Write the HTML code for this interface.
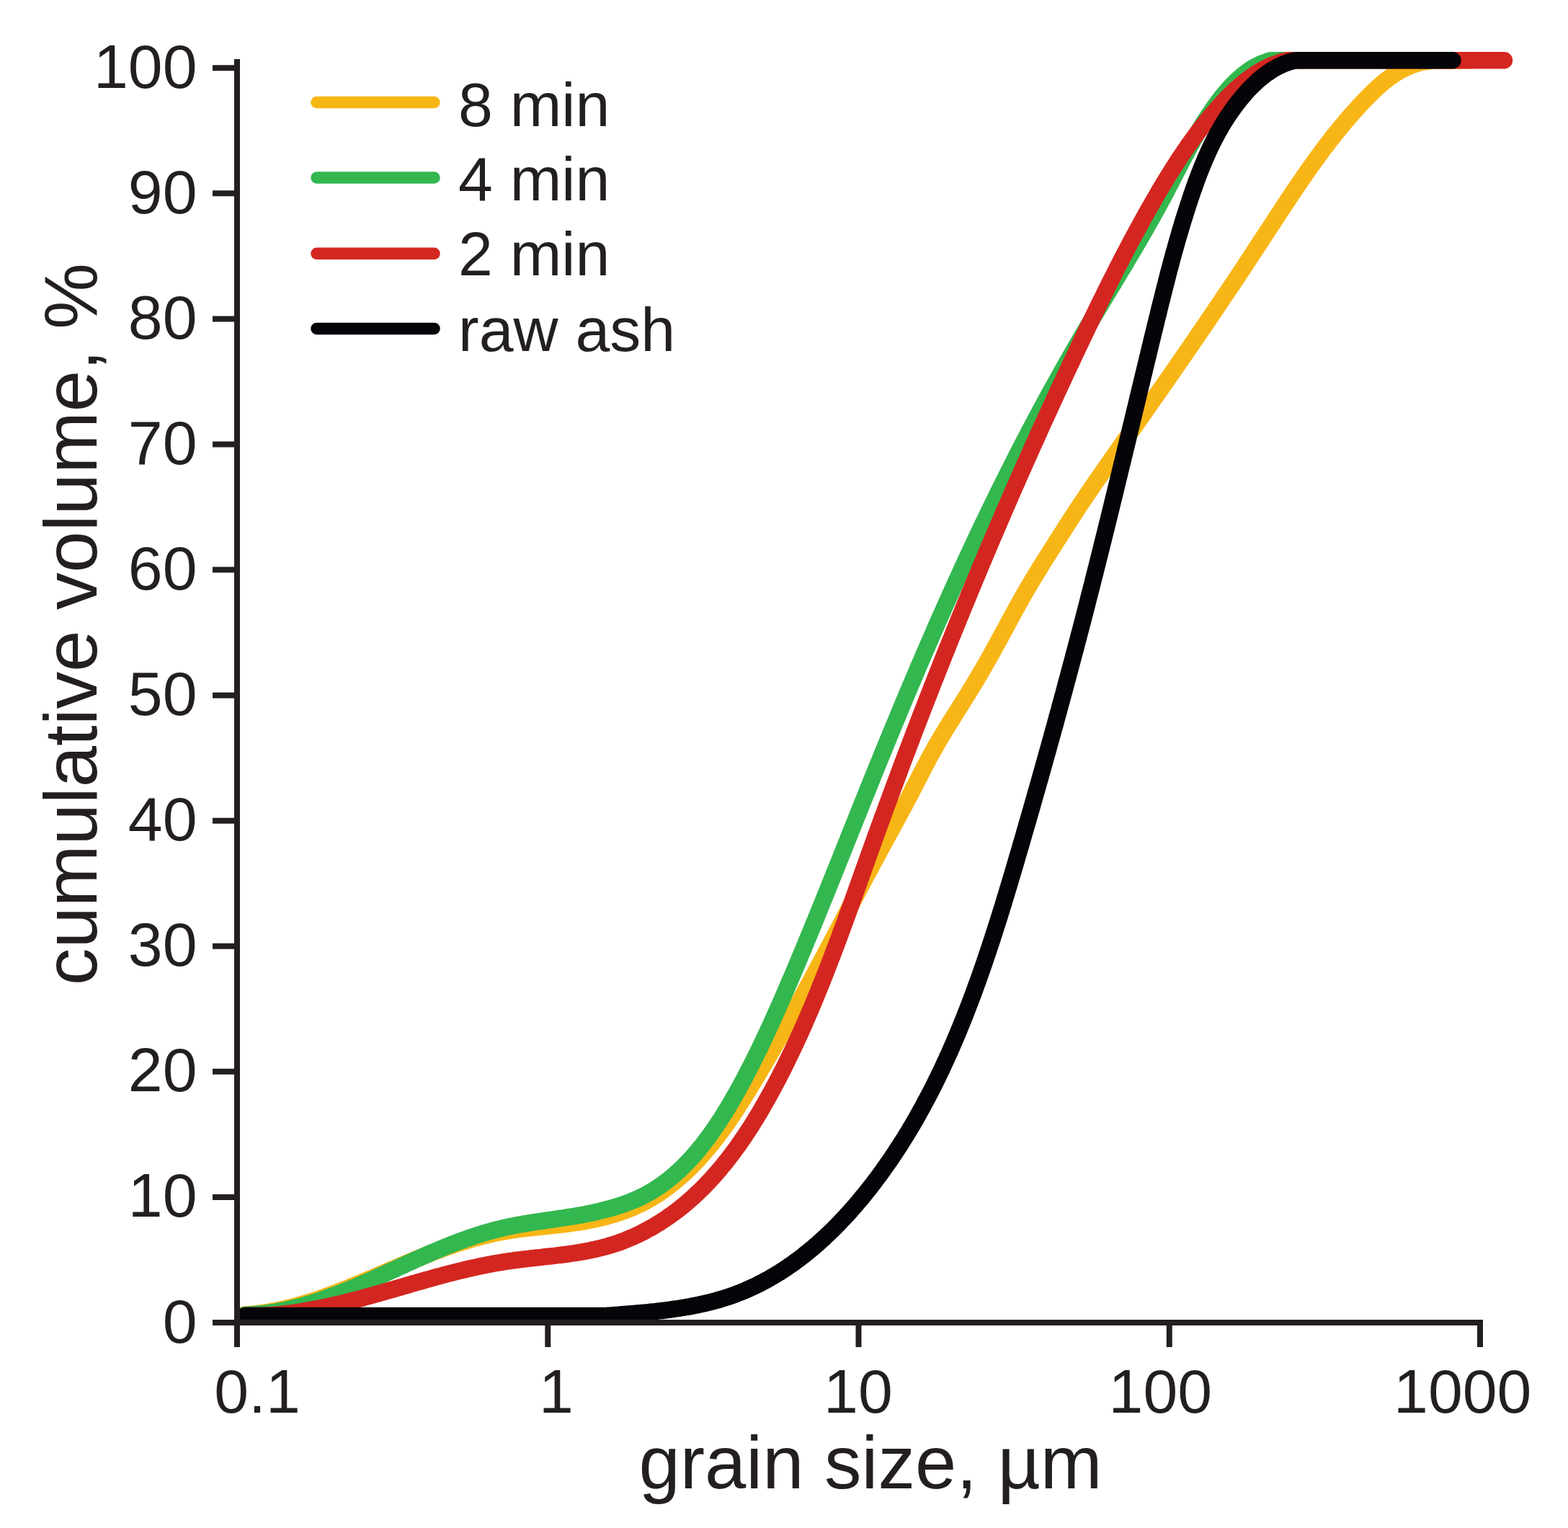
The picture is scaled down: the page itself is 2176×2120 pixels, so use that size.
<!DOCTYPE html>
<html><head><meta charset="utf-8"><title>Cumulative grain size distribution</title>
<style>html,body{margin:0;padding:0;background:#fff;}body{width:2176px;height:2120px;overflow:hidden;}svg{display:block;}</style>
</head><body>
<svg xmlns="http://www.w3.org/2000/svg" width="2176" height="2120" viewBox="0 0 2176 2120">
<rect width="2176" height="2120" fill="#fff"/>
<g fill="none" stroke-width="23.5" stroke-linecap="round" stroke-linejoin="round">
<path stroke="#f8b616" d="M340.0,1824.0C342.0,1823.9 344.0,1823.7 346.0,1823.6C348.1,1823.4 350.1,1823.2 352.1,1823.0C354.1,1822.8 356.1,1822.6 358.1,1822.3C360.1,1822.1 362.0,1821.8 364.0,1821.6C366.0,1821.3 368.0,1821.0 370.0,1820.7C372.0,1820.4 373.9,1820.0 375.9,1819.7C377.9,1819.3 379.8,1819.0 381.8,1818.6C383.8,1818.2 385.7,1817.8 387.7,1817.4C389.6,1817.0 391.6,1816.6 393.5,1816.1C395.5,1815.7 397.4,1815.2 399.4,1814.8C401.3,1814.3 403.3,1813.8 405.2,1813.3C407.1,1812.8 409.1,1812.3 411.0,1811.8C412.9,1811.3 414.8,1810.7 416.8,1810.2C418.7,1809.6 420.6,1809.1 422.5,1808.5C424.4,1807.9 426.4,1807.3 428.3,1806.7C430.2,1806.1 432.1,1805.5 434.0,1804.9C435.9,1804.3 437.8,1803.7 439.7,1803.0C441.6,1802.4 443.5,1801.7 445.4,1801.1C447.3,1800.4 449.2,1799.8 451.1,1799.1C453.0,1798.4 454.9,1797.7 456.8,1797.0C458.6,1796.4 460.5,1795.7 462.4,1794.9C464.3,1794.2 466.2,1793.5 468.1,1792.8C469.9,1792.1 471.8,1791.4 473.7,1790.6C475.6,1789.9 477.4,1789.2 479.3,1788.4C481.2,1787.7 483.0,1786.9 484.9,1786.2C486.8,1785.4 488.6,1784.6 490.5,1783.9C492.4,1783.1 494.2,1782.3 496.1,1781.6C498.0,1780.8 499.8,1780.0 501.7,1779.2C503.5,1778.5 505.4,1777.7 507.2,1776.9C509.1,1776.1 511.0,1775.3 512.8,1774.5C514.7,1773.7 516.5,1772.9 518.4,1772.2C520.2,1771.4 522.1,1770.6 523.9,1769.8C525.8,1769.0 527.6,1768.2 529.5,1767.4C531.3,1766.6 533.2,1765.8 535.0,1765.0C536.8,1764.2 538.7,1763.4 540.5,1762.6C542.4,1761.8 544.2,1761.0 546.1,1760.2C547.9,1759.4 549.8,1758.7 551.6,1757.9C553.5,1757.1 555.3,1756.3 557.1,1755.5C559.0,1754.7 560.8,1753.9 562.7,1753.2C564.5,1752.4 566.4,1751.6 568.2,1750.8C570.1,1750.1 571.9,1749.3 573.8,1748.5C575.6,1747.8 577.4,1747.0 579.3,1746.2C581.1,1745.5 583.0,1744.7 584.8,1744.0C586.7,1743.2 588.5,1742.5 590.4,1741.7C592.3,1741.0 594.1,1740.3 596.0,1739.6C597.8,1738.8 599.7,1738.1 601.5,1737.4C603.4,1736.7 605.3,1736.0 607.1,1735.3C609.0,1734.6 610.9,1733.9 612.7,1733.2C614.6,1732.5 616.5,1731.8 618.3,1731.1C620.2,1730.5 622.1,1729.8 624.0,1729.2C625.8,1728.5 627.7,1727.8 629.6,1727.2C631.5,1726.6 633.4,1725.9 635.3,1725.3C637.1,1724.7 639.0,1724.1 640.9,1723.5C642.8,1722.9 644.7,1722.3 646.6,1721.7C648.5,1721.1 650.4,1720.6 652.3,1720.0C654.2,1719.4 656.1,1718.9 658.1,1718.4C660.0,1717.8 661.9,1717.3 663.8,1716.8C665.7,1716.3 667.7,1715.8 669.6,1715.3C671.5,1714.8 673.4,1714.3 675.4,1713.8C677.3,1713.4 679.3,1712.9 681.2,1712.5C683.2,1712.0 685.1,1711.6 687.1,1711.2C689.0,1710.8 691.0,1710.4 692.9,1710.0C694.9,1709.6 696.9,1709.3 698.9,1708.9C700.8,1708.6 702.8,1708.2 704.8,1707.9C706.8,1707.6 708.8,1707.3 710.8,1707.0C712.7,1706.7 714.7,1706.4 716.7,1706.1C718.7,1705.8 720.8,1705.6 722.8,1705.3C724.8,1705.0 726.8,1704.8 728.8,1704.5C730.8,1704.3 732.8,1704.1 734.8,1703.8C736.8,1703.6 738.9,1703.4 740.9,1703.2C742.9,1703.0 744.9,1702.7 746.9,1702.5C749.0,1702.3 751.0,1702.1 753.0,1701.9C755.0,1701.7 757.0,1701.5 759.1,1701.3C761.1,1701.1 763.1,1700.8 765.1,1700.6C767.1,1700.4 769.1,1700.2 771.2,1700.0C773.2,1699.8 775.2,1699.5 777.2,1699.3C779.2,1699.1 781.2,1698.8 783.2,1698.6C785.2,1698.4 787.2,1698.1 789.2,1697.9C791.2,1697.6 793.2,1697.3 795.2,1697.0C797.2,1696.8 799.2,1696.5 801.2,1696.2C803.1,1695.9 805.1,1695.6 807.1,1695.2C809.1,1694.9 811.0,1694.6 813.0,1694.2C815.0,1693.9 816.9,1693.5 818.9,1693.1C820.8,1692.7 822.8,1692.3 824.7,1691.9C826.6,1691.5 828.6,1691.1 830.5,1690.6C832.4,1690.2 834.3,1689.7 836.3,1689.3C838.2,1688.8 840.1,1688.3 842.0,1687.8C843.9,1687.3 845.8,1686.8 847.6,1686.2C849.5,1685.7 851.4,1685.1 853.3,1684.5C855.2,1683.9 857.0,1683.3 858.9,1682.7C860.7,1682.1 862.6,1681.5 864.4,1680.8C866.3,1680.1 868.1,1679.5 869.9,1678.8C871.7,1678.1 873.5,1677.3 875.4,1676.6C877.2,1675.8 879.0,1675.1 880.7,1674.3C882.5,1673.5 884.3,1672.7 886.1,1671.8C887.9,1671.0 889.6,1670.1 891.4,1669.3C893.1,1668.4 894.9,1667.5 896.6,1666.5C898.3,1665.6 900.0,1664.6 901.7,1663.7C903.5,1662.7 905.2,1661.7 906.8,1660.6C908.5,1659.6 910.2,1658.5 911.9,1657.5C913.6,1656.4 915.2,1655.3 916.9,1654.2C918.5,1653.0 920.1,1651.9 921.8,1650.7C923.4,1649.6 925.0,1648.4 926.6,1647.2C928.2,1646.0 929.8,1644.8 931.4,1643.5C932.9,1642.3 934.5,1641.1 936.1,1639.8C937.6,1638.5 939.2,1637.2 940.7,1635.9C942.2,1634.6 943.7,1633.3 945.2,1632.0C946.7,1630.6 948.2,1629.3 949.7,1627.9C951.2,1626.6 952.6,1625.2 954.1,1623.8C955.5,1622.4 957.0,1621.0 958.4,1619.6C959.8,1618.2 961.2,1616.8 962.6,1615.3C964.0,1613.9 965.4,1612.5 966.8,1611.0C968.1,1609.5 969.5,1608.1 970.9,1606.6C972.2,1605.1 973.5,1603.6 974.9,1602.1C976.2,1600.6 977.5,1599.1 978.8,1597.6C980.1,1596.1 981.4,1594.5 982.7,1593.0C984.0,1591.5 985.3,1589.9 986.5,1588.4C987.8,1586.8 989.0,1585.2 990.3,1583.7C991.5,1582.1 992.8,1580.5 994.0,1578.9C995.2,1577.3 996.4,1575.7 997.6,1574.1C998.8,1572.5 1000.0,1570.9 1001.2,1569.3C1002.4,1567.6 1003.6,1566.0 1004.8,1564.4C1005.9,1562.7 1007.1,1561.1 1008.3,1559.4C1009.4,1557.8 1010.6,1556.1 1011.7,1554.5C1012.9,1552.8 1014.0,1551.2 1015.1,1549.5C1016.3,1547.8 1017.4,1546.1 1018.5,1544.5C1019.6,1542.8 1020.7,1541.1 1021.9,1539.4C1023.0,1537.7 1024.1,1536.0 1025.2,1534.3C1026.3,1532.6 1027.3,1530.9 1028.4,1529.2C1029.5,1527.5 1030.6,1525.8 1031.7,1524.1C1032.7,1522.4 1033.8,1520.6 1034.9,1518.9C1035.9,1517.2 1037.0,1515.5 1038.1,1513.8C1039.1,1512.0 1040.2,1510.3 1041.2,1508.6C1042.3,1506.9 1043.3,1505.1 1044.4,1503.4C1045.4,1501.7 1046.5,1499.9 1047.5,1498.2C1048.6,1496.5 1049.6,1494.7 1050.6,1493.0C1051.7,1491.3 1052.7,1489.5 1053.7,1487.8C1054.8,1486.1 1055.8,1484.3 1056.8,1482.6C1057.8,1480.9 1058.9,1479.1 1059.9,1477.4C1060.9,1475.6 1061.9,1473.9 1062.9,1472.2C1064.0,1470.4 1065.0,1468.7 1066.0,1466.9C1067.0,1465.2 1068.0,1463.4 1069.0,1461.7C1070.0,1460.0 1071.0,1458.2 1072.0,1456.5C1073.0,1454.7 1074.0,1453.0 1075.0,1451.2C1076.0,1449.5 1077.0,1447.7 1078.0,1446.0C1079.0,1444.2 1080.0,1442.5 1081.0,1440.7C1082.0,1439.0 1083.0,1437.2 1084.0,1435.5C1085.0,1433.7 1086.0,1432.0 1086.9,1430.2C1087.9,1428.5 1088.9,1426.7 1089.9,1425.0C1090.9,1423.2 1091.9,1421.5 1092.8,1419.7C1093.8,1418.0 1094.8,1416.2 1095.8,1414.5C1096.7,1412.7 1097.7,1411.0 1098.7,1409.2C1099.7,1407.4 1100.6,1405.7 1101.6,1403.9C1102.6,1402.2 1103.5,1400.4 1104.5,1398.7C1105.5,1396.9 1106.4,1395.1 1107.4,1393.4C1108.4,1391.6 1109.3,1389.9 1110.3,1388.1C1111.2,1386.4 1112.2,1384.6 1113.2,1382.8C1114.1,1381.1 1115.1,1379.3 1116.0,1377.6C1117.0,1375.8 1117.9,1374.0 1118.9,1372.3C1119.8,1370.5 1120.8,1368.8 1121.8,1367.0C1122.7,1365.2 1123.7,1363.5 1124.6,1361.7C1125.6,1359.9 1126.5,1358.2 1127.4,1356.4C1128.4,1354.7 1129.3,1352.9 1130.3,1351.1C1131.2,1349.4 1132.2,1347.6 1133.1,1345.8C1134.1,1344.1 1135.0,1342.3 1135.9,1340.5C1136.9,1338.8 1137.8,1337.0 1138.8,1335.3C1139.7,1333.5 1140.7,1331.7 1141.6,1330.0C1142.5,1328.2 1143.5,1326.4 1144.4,1324.7C1145.3,1322.9 1146.3,1321.1 1147.2,1319.4C1148.2,1317.6 1149.1,1315.8 1150.0,1314.1C1151.0,1312.3 1151.9,1310.6 1152.8,1308.8C1153.8,1307.0 1154.7,1305.3 1155.6,1303.5C1156.6,1301.7 1157.5,1300.0 1158.4,1298.2C1159.4,1296.4 1160.3,1294.7 1161.2,1292.9C1162.2,1291.1 1163.1,1289.4 1164.0,1287.6C1165.0,1285.8 1165.9,1284.1 1166.8,1282.3C1167.8,1280.6 1168.7,1278.8 1169.6,1277.0C1170.6,1275.3 1171.5,1273.5 1172.4,1271.7C1173.4,1270.0 1174.3,1268.2 1175.2,1266.4C1176.2,1264.7 1177.1,1262.9 1178.0,1261.1C1178.9,1259.4 1179.9,1257.6 1180.8,1255.9C1181.7,1254.1 1182.7,1252.3 1183.6,1250.6C1184.5,1248.8 1185.5,1247.0 1186.4,1245.3C1187.3,1243.5 1188.3,1241.8 1189.2,1240.0C1190.1,1238.2 1191.1,1236.5 1192.0,1234.7C1192.9,1232.9 1193.9,1231.2 1194.8,1229.4C1195.7,1227.7 1196.7,1225.9 1197.6,1224.1C1198.6,1222.4 1199.5,1220.6 1200.4,1218.9C1201.4,1217.1 1202.3,1215.4 1203.2,1213.6C1204.2,1211.8 1205.1,1210.1 1206.1,1208.3C1207.0,1206.6 1207.9,1204.8 1208.9,1203.0C1209.8,1201.3 1210.8,1199.5 1211.7,1197.8C1212.7,1196.0 1213.6,1194.3 1214.5,1192.5C1215.5,1190.8 1216.4,1189.0 1217.4,1187.3C1218.3,1185.5 1219.3,1183.7 1220.2,1182.0C1221.2,1180.2 1222.1,1178.5 1223.1,1176.7C1224.0,1175.0 1225.0,1173.2 1225.9,1171.5C1226.9,1169.7 1227.8,1168.0 1228.8,1166.2C1229.7,1164.5 1230.7,1162.7 1231.6,1161.0C1232.6,1159.2 1233.5,1157.5 1234.5,1155.7C1235.5,1154.0 1236.4,1152.3 1237.4,1150.5C1238.3,1148.8 1239.3,1147.0 1240.2,1145.3C1241.2,1143.5 1242.1,1141.8 1243.1,1140.0C1244.0,1138.3 1245.0,1136.5 1245.9,1134.8C1246.8,1133.0 1247.8,1131.3 1248.7,1129.6C1249.7,1127.8 1250.6,1126.1 1251.5,1124.3C1252.5,1122.6 1253.4,1120.8 1254.4,1119.1C1255.3,1117.3 1256.2,1115.6 1257.1,1113.9C1258.1,1112.1 1259.0,1110.4 1259.9,1108.6C1260.8,1106.9 1261.8,1105.1 1262.7,1103.4C1263.6,1101.7 1264.5,1099.9 1265.4,1098.2C1266.3,1096.4 1267.2,1094.7 1268.1,1092.9C1269.0,1091.2 1269.9,1089.4 1270.8,1087.7C1271.7,1086.0 1272.6,1084.2 1273.5,1082.5C1274.4,1080.7 1275.3,1079.0 1276.2,1077.2C1277.1,1075.5 1278.0,1073.7 1278.9,1072.0C1279.8,1070.3 1280.7,1068.5 1281.6,1066.8C1282.5,1065.0 1283.4,1063.3 1284.3,1061.5C1285.3,1059.8 1286.2,1058.0 1287.1,1056.3C1288.0,1054.5 1289.0,1052.8 1289.9,1051.0C1290.8,1049.3 1291.8,1047.5 1292.8,1045.8C1293.7,1044.0 1294.7,1042.3 1295.7,1040.5C1296.6,1038.8 1297.6,1037.0 1298.6,1035.3C1299.6,1033.5 1300.6,1031.8 1301.6,1030.0C1302.7,1028.3 1303.7,1026.5 1304.7,1024.8C1305.8,1023.0 1306.8,1021.3 1307.9,1019.5C1308.9,1017.8 1310.0,1016.0 1311.1,1014.3C1312.1,1012.5 1313.2,1010.7 1314.3,1009.0C1315.4,1007.2 1316.5,1005.5 1317.6,1003.7C1318.6,1002.0 1319.7,1000.2 1320.8,998.5C1321.9,996.7 1323.1,994.9 1324.2,993.2C1325.3,991.4 1326.4,989.7 1327.5,987.9C1328.6,986.2 1329.7,984.4 1330.8,982.7C1331.9,980.9 1333.0,979.1 1334.1,977.4C1335.2,975.6 1336.3,973.9 1337.4,972.1C1338.5,970.4 1339.6,968.6 1340.7,966.9C1341.8,965.1 1342.9,963.4 1344.0,961.6C1345.1,959.8 1346.2,958.1 1347.2,956.3C1348.3,954.6 1349.4,952.8 1350.4,951.1C1351.5,949.3 1352.5,947.6 1353.6,945.8C1354.6,944.1 1355.7,942.3 1356.7,940.6C1357.8,938.8 1358.8,937.1 1359.8,935.3C1360.8,933.6 1361.8,931.8 1362.9,930.1C1363.9,928.3 1364.9,926.6 1365.9,924.8C1366.9,923.1 1367.9,921.4 1368.9,919.6C1369.9,917.9 1370.8,916.1 1371.8,914.4C1372.8,912.7 1373.8,910.9 1374.8,909.2C1375.7,907.4 1376.7,905.7 1377.7,904.0C1378.6,902.2 1379.6,900.5 1380.5,898.8C1381.5,897.0 1382.5,895.3 1383.4,893.6C1384.4,891.8 1385.3,890.1 1386.2,888.4C1387.2,886.6 1388.1,884.9 1389.1,883.2C1390.0,881.5 1390.9,879.7 1391.9,878.0C1392.8,876.3 1393.7,874.6 1394.7,872.8C1395.6,871.1 1396.5,869.4 1397.4,867.7C1398.4,866.0 1399.3,864.2 1400.2,862.5C1401.2,860.8 1402.1,859.1 1403.0,857.4C1404.0,855.7 1404.9,853.9 1405.8,852.2C1406.8,850.5 1407.7,848.8 1408.6,847.1C1409.6,845.4 1410.5,843.7 1411.4,842.0C1412.4,840.3 1413.3,838.6 1414.3,836.9C1415.2,835.1 1416.2,833.4 1417.2,831.7C1418.1,830.0 1419.1,828.3 1420.0,826.6C1421.0,824.9 1422.0,823.2 1423.0,821.5C1423.9,819.8 1424.9,818.1 1425.9,816.4C1426.9,814.7 1427.9,813.0 1428.9,811.4C1429.9,809.7 1430.9,808.0 1431.9,806.3C1432.9,804.6 1434.0,802.9 1435.0,801.2C1436.0,799.5 1437.0,797.8 1438.1,796.1C1439.1,794.4 1440.1,792.7 1441.2,791.1C1442.2,789.4 1443.2,787.7 1444.3,786.0C1445.3,784.3 1446.4,782.6 1447.4,780.9C1448.5,779.3 1449.5,777.6 1450.6,775.9C1451.7,774.2 1452.7,772.5 1453.8,770.9C1454.8,769.2 1455.9,767.5 1457.0,765.8C1458.0,764.1 1459.1,762.5 1460.1,760.8C1461.2,759.1 1462.3,757.4 1463.4,755.8C1464.4,754.1 1465.5,752.4 1466.6,750.7C1467.6,749.1 1468.7,747.4 1469.8,745.7C1470.8,744.0 1471.9,742.4 1473.0,740.7C1474.0,739.0 1475.1,737.4 1476.2,735.7C1477.3,734.0 1478.3,732.4 1479.4,730.7C1480.5,729.0 1481.5,727.3 1482.6,725.7C1483.7,724.0 1484.8,722.3 1485.8,720.7C1486.9,719.0 1488.0,717.4 1489.1,715.7C1490.2,714.0 1491.3,712.4 1492.4,710.7C1493.5,709.0 1494.5,707.4 1495.6,705.7C1496.7,704.0 1497.8,702.4 1498.9,700.7C1500.1,699.1 1501.2,697.4 1502.3,695.7C1503.4,694.1 1504.5,692.4 1505.6,690.8C1506.7,689.1 1507.8,687.5 1509.0,685.8C1510.1,684.1 1511.2,682.5 1512.3,680.8C1513.5,679.2 1514.6,677.5 1515.7,675.9C1516.8,674.2 1518.0,672.5 1519.1,670.9C1520.2,669.2 1521.4,667.6 1522.5,665.9C1523.7,664.3 1524.8,662.6 1525.9,661.0C1527.1,659.3 1528.2,657.7 1529.4,656.0C1530.5,654.4 1531.7,652.7 1532.8,651.1C1534.0,649.4 1535.1,647.8 1536.3,646.1C1537.4,644.5 1538.6,642.8 1539.7,641.2C1540.9,639.5 1542.0,637.9 1543.2,636.2C1544.3,634.6 1545.5,632.9 1546.6,631.3C1547.8,629.6 1549.0,628.0 1550.1,626.3C1551.3,624.7 1552.4,623.0 1553.6,621.4C1554.7,619.7 1555.9,618.1 1557.1,616.4C1558.2,614.8 1559.4,613.1 1560.5,611.5C1561.7,609.8 1562.9,608.2 1564.0,606.6C1565.2,604.9 1566.4,603.3 1567.5,601.6C1568.7,600.0 1569.8,598.3 1571.0,596.7C1572.2,595.0 1573.3,593.4 1574.5,591.7C1575.6,590.1 1576.8,588.5 1578.0,586.8C1579.1,585.2 1580.3,583.5 1581.4,581.9C1582.6,580.2 1583.7,578.6 1584.9,576.9C1586.1,575.3 1587.2,573.7 1588.4,572.0C1589.5,570.4 1590.7,568.7 1591.8,567.1C1593.0,565.4 1594.1,563.8 1595.3,562.1C1596.4,560.5 1597.6,558.9 1598.7,557.2C1599.9,555.6 1601.0,553.9 1602.2,552.3C1603.3,550.6 1604.5,549.0 1605.6,547.3C1606.8,545.7 1607.9,544.1 1609.1,542.4C1610.2,540.8 1611.4,539.1 1612.5,537.5C1613.7,535.8 1614.8,534.2 1616.0,532.5C1617.1,530.9 1618.3,529.3 1619.4,527.6C1620.5,526.0 1621.7,524.3 1622.8,522.7C1624.0,521.0 1625.1,519.4 1626.3,517.7C1627.4,516.1 1628.5,514.5 1629.7,512.8C1630.8,511.2 1632.0,509.5 1633.1,507.9C1634.2,506.2 1635.4,504.6 1636.5,502.9C1637.7,501.3 1638.8,499.6 1639.9,498.0C1641.1,496.3 1642.2,494.7 1643.3,493.1C1644.5,491.4 1645.6,489.8 1646.7,488.1C1647.9,486.5 1649.0,484.8 1650.2,483.2C1651.3,481.5 1652.4,479.9 1653.6,478.2C1654.7,476.6 1655.8,474.9 1656.9,473.3C1658.1,471.6 1659.2,470.0 1660.3,468.3C1661.5,466.7 1662.6,465.0 1663.7,463.4C1664.9,461.7 1666.0,460.1 1667.1,458.4C1668.2,456.8 1669.4,455.1 1670.5,453.5C1671.6,451.8 1672.7,450.2 1673.9,448.5C1675.0,446.9 1676.1,445.2 1677.2,443.5C1678.4,441.9 1679.5,440.2 1680.6,438.6C1681.7,436.9 1682.9,435.3 1684.0,433.6C1685.1,432.0 1686.2,430.3 1687.3,428.6C1688.5,427.0 1689.6,425.3 1690.7,423.7C1691.8,422.0 1692.9,420.4 1694.1,418.7C1695.2,417.0 1696.3,415.4 1697.4,413.7C1698.5,412.1 1699.7,410.4 1700.8,408.7C1701.9,407.1 1703.0,405.4 1704.1,403.8C1705.2,402.1 1706.3,400.4 1707.5,398.8C1708.6,397.1 1709.7,395.4 1710.8,393.8C1711.9,392.1 1713.0,390.4 1714.1,388.8C1715.2,387.1 1716.4,385.4 1717.5,383.8C1718.6,382.1 1719.7,380.4 1720.8,378.8C1721.9,377.1 1723.0,375.4 1724.1,373.8C1725.2,372.1 1726.3,370.4 1727.5,368.7C1728.6,367.1 1729.7,365.4 1730.8,363.7C1731.9,362.1 1733.0,360.4 1734.1,358.7C1735.2,357.0 1736.3,355.4 1737.4,353.7C1738.5,352.0 1739.6,350.3 1740.7,348.7C1741.8,347.0 1742.9,345.3 1744.0,343.6C1745.1,341.9 1746.2,340.3 1747.3,338.6C1748.4,336.9 1749.5,335.2 1750.6,333.5C1751.7,331.8 1752.8,330.2 1753.9,328.5C1755.0,326.8 1756.1,325.1 1757.2,323.4C1758.3,321.7 1759.4,320.1 1760.5,318.4C1761.6,316.7 1762.7,315.0 1763.8,313.3C1764.9,311.6 1766.0,309.9 1767.1,308.3C1768.2,306.6 1769.3,304.9 1770.4,303.2C1771.5,301.5 1772.6,299.8 1773.7,298.1C1774.8,296.5 1775.9,294.8 1777.0,293.1C1778.1,291.4 1779.2,289.7 1780.4,288.1C1781.5,286.4 1782.6,284.7 1783.7,283.0C1784.8,281.3 1785.9,279.7 1787.0,278.0C1788.1,276.3 1789.2,274.6 1790.4,273.0C1791.5,271.3 1792.6,269.6 1793.7,267.9C1794.8,266.3 1796.0,264.6 1797.1,262.9C1798.2,261.3 1799.3,259.6 1800.5,257.9C1801.6,256.3 1802.7,254.6 1803.9,253.0C1805.0,251.3 1806.1,249.7 1807.3,248.0C1808.4,246.4 1809.5,244.7 1810.7,243.1C1811.8,241.4 1813.0,239.8 1814.1,238.1C1815.3,236.5 1816.4,234.8 1817.6,233.2C1818.8,231.6 1819.9,229.9 1821.1,228.3C1822.3,226.7 1823.4,225.0 1824.6,223.4C1825.8,221.8 1826.9,220.2 1828.1,218.6C1829.3,217.0 1830.5,215.3 1831.7,213.7C1832.9,212.1 1834.0,210.5 1835.2,208.9C1836.4,207.3 1837.6,205.7 1838.8,204.1C1840.0,202.5 1841.3,201.0 1842.5,199.4C1843.7,197.8 1844.9,196.2 1846.1,194.6C1847.4,193.1 1848.6,191.5 1849.8,189.9C1851.0,188.4 1852.3,186.8 1853.5,185.2C1854.8,183.7 1856.0,182.1 1857.3,180.6C1858.5,179.0 1859.8,177.5 1861.1,176.0C1862.3,174.4 1863.6,172.9 1864.9,171.4C1866.1,169.9 1867.4,168.3 1868.7,166.8C1870.0,165.3 1871.3,163.8 1872.6,162.3C1873.9,160.8 1875.2,159.3 1876.5,157.8C1877.8,156.3 1879.1,154.9 1880.5,153.4C1881.8,151.9 1883.1,150.4 1884.5,149.0C1885.8,147.5 1887.1,146.1 1888.5,144.6C1889.9,143.2 1891.2,141.7 1892.6,140.3C1893.9,138.9 1895.3,137.4 1896.7,136.0C1898.1,134.6 1899.5,133.2 1900.9,131.8C1902.3,130.4 1903.7,129.0 1905.1,127.6C1906.5,126.2 1907.9,124.9 1909.4,123.5C1910.8,122.2 1912.3,120.9 1913.7,119.6C1915.2,118.2 1916.7,117.0 1918.2,115.7C1919.7,114.4 1921.2,113.2 1922.7,112.0C1924.2,110.8 1925.8,109.6 1927.3,108.4C1928.9,107.3 1930.5,106.1 1932.1,105.0C1933.7,103.9 1935.3,102.9 1936.9,101.8C1938.5,100.8 1940.2,99.8 1941.9,98.8C1943.6,97.9 1945.3,96.9 1947.0,96.1C1948.7,95.2 1950.4,94.3 1952.2,93.5C1954.0,92.7 1955.8,92.0 1957.6,91.3C1959.4,90.5 1961.3,89.9 1963.1,89.3C1965.0,88.6 1966.9,88.1 1968.8,87.6C1970.8,87.0 1972.7,86.6 1974.7,86.2C1976.7,85.7 1978.7,85.4 1980.7,85.1C1982.8,84.8 1984.9,84.5 1987.0,84.4C1989.1,84.2 1991.2,84.0 1993.4,84.0C1995.6,83.9 1997.8,84.0 2000.0,84.0C2013.3,83.9 2026.7,83.9 2040.0,83.8"/>
<path stroke="#33b74f" d="M340.0,1824.5C342.1,1824.4 344.1,1824.3 346.2,1824.2C348.3,1824.1 350.3,1823.9 352.4,1823.7C354.4,1823.6 356.5,1823.4 358.5,1823.2C360.6,1823.0 362.6,1822.8 364.6,1822.5C366.7,1822.3 368.7,1822.0 370.7,1821.8C372.7,1821.5 374.7,1821.2 376.7,1820.9C378.7,1820.6 380.7,1820.3 382.7,1819.9C384.7,1819.6 386.6,1819.2 388.6,1818.8C390.6,1818.5 392.6,1818.1 394.5,1817.7C396.5,1817.3 398.5,1816.8 400.4,1816.4C402.4,1816.0 404.3,1815.5 406.3,1815.0C408.2,1814.6 410.1,1814.1 412.1,1813.6C414.0,1813.1 415.9,1812.6 417.9,1812.1C419.8,1811.6 421.7,1811.0 423.6,1810.5C425.5,1810.0 427.4,1809.4 429.3,1808.8C431.2,1808.3 433.1,1807.7 435.0,1807.1C436.9,1806.5 438.8,1805.9 440.7,1805.3C442.6,1804.6 444.5,1804.0 446.4,1803.4C448.2,1802.7 450.1,1802.1 452.0,1801.4C453.9,1800.8 455.7,1800.1 457.6,1799.4C459.5,1798.8 461.3,1798.1 463.2,1797.4C465.1,1796.7 466.9,1796.0 468.8,1795.3C470.6,1794.6 472.5,1793.8 474.3,1793.1C476.2,1792.4 478.0,1791.6 479.9,1790.9C481.7,1790.2 483.5,1789.4 485.4,1788.7C487.2,1787.9 489.1,1787.1 490.9,1786.4C492.7,1785.6 494.6,1784.8 496.4,1784.1C498.2,1783.3 500.1,1782.5 501.9,1781.7C503.7,1780.9 505.5,1780.1 507.4,1779.3C509.2,1778.5 511.0,1777.7 512.8,1776.9C514.6,1776.1 516.5,1775.3 518.3,1774.5C520.1,1773.6 521.9,1772.8 523.7,1772.0C525.6,1771.2 527.4,1770.4 529.2,1769.5C531.0,1768.7 532.8,1767.9 534.6,1767.1C536.5,1766.2 538.3,1765.4 540.1,1764.6C541.9,1763.7 543.7,1762.9 545.5,1762.1C547.3,1761.2 549.2,1760.4 551.0,1759.6C552.8,1758.7 554.6,1757.9 556.4,1757.1C558.2,1756.2 560.0,1755.4 561.9,1754.6C563.7,1753.7 565.5,1752.9 567.3,1752.1C569.1,1751.2 571.0,1750.4 572.8,1749.6C574.6,1748.8 576.4,1747.9 578.2,1747.1C580.1,1746.3 581.9,1745.5 583.7,1744.7C585.5,1743.8 587.4,1743.0 589.2,1742.2C591.0,1741.4 592.8,1740.6 594.7,1739.8C596.5,1739.0 598.3,1738.2 600.2,1737.4C602.0,1736.6 603.9,1735.8 605.7,1735.1C607.5,1734.3 609.4,1733.5 611.2,1732.7C613.1,1732.0 614.9,1731.2 616.8,1730.5C618.6,1729.7 620.5,1729.0 622.3,1728.2C624.2,1727.5 626.0,1726.7 627.9,1726.0C629.8,1725.3 631.6,1724.6 633.5,1723.9C635.4,1723.1 637.2,1722.4 639.1,1721.7C641.0,1721.1 642.9,1720.4 644.8,1719.7C646.6,1719.0 648.5,1718.3 650.4,1717.7C652.3,1717.0 654.2,1716.4 656.1,1715.7C658.0,1715.1 659.9,1714.5 661.8,1713.9C663.7,1713.3 665.6,1712.7 667.5,1712.1C669.5,1711.5 671.4,1710.9 673.3,1710.3C675.2,1709.7 677.2,1709.2 679.1,1708.6C681.0,1708.1 683.0,1707.6 684.9,1707.0C686.9,1706.5 688.8,1706.0 690.8,1705.5C692.7,1705.0 694.7,1704.6 696.7,1704.1C698.6,1703.6 700.6,1703.2 702.6,1702.7C704.6,1702.3 706.5,1701.9 708.5,1701.5C710.5,1701.1 712.5,1700.7 714.5,1700.3C716.5,1699.9 718.5,1699.5 720.5,1699.2C722.5,1698.8 724.5,1698.4 726.6,1698.1C728.6,1697.8 730.6,1697.4 732.6,1697.1C734.6,1696.8 736.6,1696.4 738.7,1696.1C740.7,1695.8 742.7,1695.5 744.7,1695.2C746.8,1694.9 748.8,1694.6 750.8,1694.3C752.9,1694.0 754.9,1693.7 756.9,1693.4C758.9,1693.1 761.0,1692.8 763.0,1692.5C765.0,1692.2 767.1,1691.9 769.1,1691.6C771.1,1691.3 773.2,1691.0 775.2,1690.7C777.2,1690.4 779.2,1690.1 781.3,1689.8C783.3,1689.5 785.3,1689.2 787.3,1688.9C789.3,1688.6 791.3,1688.2 793.4,1687.9C795.4,1687.6 797.4,1687.3 799.4,1686.9C801.4,1686.6 803.4,1686.2 805.4,1685.9C807.4,1685.5 809.4,1685.1 811.4,1684.8C813.3,1684.4 815.3,1684.0 817.3,1683.6C819.3,1683.2 821.2,1682.8 823.2,1682.4C825.2,1682.0 827.1,1681.5 829.1,1681.1C831.0,1680.6 833.0,1680.2 834.9,1679.7C836.8,1679.2 838.8,1678.8 840.7,1678.2C842.6,1677.7 844.5,1677.2 846.4,1676.7C848.3,1676.2 850.2,1675.6 852.1,1675.1C854.0,1674.5 855.9,1673.9 857.8,1673.3C859.6,1672.7 861.5,1672.1 863.3,1671.5C865.2,1670.8 867.0,1670.2 868.9,1669.5C870.7,1668.8 872.5,1668.2 874.3,1667.4C876.1,1666.7 877.9,1666.0 879.7,1665.2C881.5,1664.5 883.2,1663.7 885.0,1662.9C886.8,1662.1 888.5,1661.3 890.2,1660.4C892.0,1659.6 893.7,1658.7 895.4,1657.8C897.1,1657.0 898.8,1656.0 900.5,1655.1C902.1,1654.2 903.8,1653.2 905.4,1652.2C907.1,1651.2 908.7,1650.2 910.3,1649.2C912.0,1648.1 913.6,1647.0 915.2,1646.0C916.7,1644.9 918.3,1643.8 919.9,1642.6C921.5,1641.5 923.0,1640.3 924.5,1639.2C926.1,1638.0 927.6,1636.8 929.1,1635.6C930.6,1634.4 932.1,1633.1 933.6,1631.9C935.1,1630.6 936.6,1629.3 938.0,1628.0C939.5,1626.7 940.9,1625.4 942.4,1624.1C943.8,1622.7 945.2,1621.4 946.6,1620.0C948.1,1618.6 949.4,1617.2 950.8,1615.8C952.2,1614.4 953.6,1613.0 955.0,1611.6C956.3,1610.1 957.7,1608.7 959.0,1607.2C960.4,1605.7 961.7,1604.2 963.0,1602.7C964.3,1601.2 965.6,1599.7 966.9,1598.2C968.2,1596.6 969.5,1595.1 970.8,1593.5C972.1,1592.0 973.3,1590.4 974.6,1588.8C975.8,1587.2 977.1,1585.6 978.3,1584.0C979.5,1582.4 980.8,1580.8 982.0,1579.2C983.2,1577.5 984.4,1575.9 985.6,1574.2C986.8,1572.6 987.9,1570.9 989.1,1569.2C990.3,1567.6 991.5,1565.9 992.6,1564.2C993.8,1562.5 994.9,1560.8 996.0,1559.1C997.2,1557.4 998.3,1555.7 999.4,1553.9C1000.5,1552.2 1001.7,1550.5 1002.8,1548.7C1003.9,1547.0 1004.9,1545.3 1006.0,1543.5C1007.1,1541.8 1008.2,1540.0 1009.3,1538.2C1010.3,1536.5 1011.4,1534.7 1012.4,1532.9C1013.5,1531.2 1014.5,1529.4 1015.6,1527.6C1016.6,1525.8 1017.6,1524.0 1018.6,1522.3C1019.7,1520.5 1020.7,1518.7 1021.7,1516.9C1022.7,1515.1 1023.7,1513.3 1024.7,1511.5C1025.7,1509.7 1026.6,1507.9 1027.6,1506.1C1028.6,1504.3 1029.6,1502.5 1030.5,1500.7C1031.5,1498.9 1032.5,1497.1 1033.4,1495.4C1034.4,1493.6 1035.3,1491.8 1036.2,1490.0C1037.2,1488.2 1038.1,1486.4 1039.0,1484.6C1040.0,1482.8 1040.9,1481.0 1041.8,1479.2C1042.7,1477.4 1043.6,1475.6 1044.5,1473.8C1045.4,1472.0 1046.3,1470.2 1047.2,1468.4C1048.1,1466.6 1049.0,1464.8 1049.9,1463.0C1050.8,1461.3 1051.7,1459.5 1052.5,1457.7C1053.4,1455.9 1054.3,1454.1 1055.2,1452.3C1056.0,1450.5 1056.9,1448.7 1057.7,1446.9C1058.6,1445.1 1059.4,1443.3 1060.3,1441.5C1061.1,1439.7 1062.0,1437.9 1062.8,1436.1C1063.7,1434.3 1064.5,1432.5 1065.3,1430.7C1066.2,1428.9 1067.0,1427.1 1067.8,1425.3C1068.7,1423.5 1069.5,1421.7 1070.3,1419.9C1071.1,1418.1 1071.9,1416.3 1072.8,1414.5C1073.6,1412.7 1074.4,1410.9 1075.2,1409.1C1076.0,1407.3 1076.8,1405.5 1077.6,1403.7C1078.4,1401.9 1079.2,1400.1 1080.0,1398.3C1080.8,1396.5 1081.6,1394.7 1082.4,1392.9C1083.2,1391.0 1084.0,1389.2 1084.8,1387.4C1085.6,1385.6 1086.4,1383.8 1087.2,1382.0C1088.0,1380.2 1088.7,1378.3 1089.5,1376.5C1090.3,1374.7 1091.1,1372.9 1091.9,1371.1C1092.7,1369.3 1093.5,1367.4 1094.2,1365.6C1095.0,1363.8 1095.8,1362.0 1096.6,1360.1C1097.4,1358.3 1098.1,1356.5 1098.9,1354.7C1099.7,1352.8 1100.5,1351.0 1101.3,1349.2C1102.0,1347.3 1102.8,1345.5 1103.6,1343.7C1104.4,1341.8 1105.1,1340.0 1105.9,1338.2C1106.7,1336.3 1107.5,1334.5 1108.2,1332.7C1109.0,1330.8 1109.8,1329.0 1110.5,1327.1C1111.3,1325.3 1112.1,1323.5 1112.8,1321.6C1113.6,1319.8 1114.4,1317.9 1115.2,1316.1C1115.9,1314.2 1116.7,1312.4 1117.5,1310.6C1118.2,1308.7 1119.0,1306.9 1119.7,1305.0C1120.5,1303.2 1121.3,1301.3 1122.0,1299.5C1122.8,1297.6 1123.6,1295.8 1124.3,1293.9C1125.1,1292.1 1125.9,1290.2 1126.6,1288.4C1127.4,1286.5 1128.1,1284.6 1128.9,1282.8C1129.7,1280.9 1130.4,1279.1 1131.2,1277.2C1131.9,1275.4 1132.7,1273.5 1133.5,1271.6C1134.2,1269.8 1135.0,1267.9 1135.7,1266.1C1136.5,1264.2 1137.2,1262.4 1138.0,1260.5C1138.8,1258.6 1139.5,1256.8 1140.3,1254.9C1141.0,1253.0 1141.8,1251.2 1142.5,1249.3C1143.3,1247.5 1144.0,1245.6 1144.8,1243.7C1145.5,1241.9 1146.3,1240.0 1147.1,1238.1C1147.8,1236.3 1148.6,1234.4 1149.3,1232.5C1150.1,1230.7 1150.8,1228.8 1151.6,1226.9C1152.3,1225.1 1153.1,1223.2 1153.8,1221.3C1154.6,1219.5 1155.3,1217.6 1156.1,1215.7C1156.8,1213.9 1157.6,1212.0 1158.3,1210.1C1159.1,1208.2 1159.8,1206.4 1160.6,1204.5C1161.3,1202.6 1162.1,1200.8 1162.8,1198.9C1163.6,1197.0 1164.3,1195.2 1165.1,1193.3C1165.8,1191.4 1166.6,1189.5 1167.3,1187.7C1168.1,1185.8 1168.8,1183.9 1169.6,1182.1C1170.3,1180.2 1171.1,1178.3 1171.8,1176.4C1172.6,1174.6 1173.3,1172.7 1174.1,1170.8C1174.8,1169.0 1175.5,1167.1 1176.3,1165.2C1177.0,1163.3 1177.8,1161.5 1178.5,1159.6C1179.3,1157.7 1180.0,1155.9 1180.8,1154.0C1181.5,1152.1 1182.3,1150.2 1183.0,1148.4C1183.8,1146.5 1184.5,1144.6 1185.3,1142.8C1186.0,1140.9 1186.8,1139.0 1187.5,1137.2C1188.3,1135.3 1189.0,1133.4 1189.8,1131.5C1190.5,1129.7 1191.3,1127.8 1192.0,1125.9C1192.8,1124.1 1193.5,1122.2 1194.3,1120.3C1195.0,1118.5 1195.8,1116.6 1196.5,1114.7C1197.3,1112.9 1198.0,1111.0 1198.8,1109.1C1199.5,1107.3 1200.3,1105.4 1201.0,1103.5C1201.8,1101.7 1202.5,1099.8 1203.3,1097.9C1204.0,1096.1 1204.8,1094.2 1205.5,1092.3C1206.3,1090.5 1207.0,1088.6 1207.8,1086.7C1208.5,1084.9 1209.3,1083.0 1210.0,1081.1C1210.8,1079.3 1211.5,1077.4 1212.3,1075.6C1213.1,1073.7 1213.8,1071.8 1214.6,1070.0C1215.3,1068.1 1216.1,1066.3 1216.8,1064.4C1217.6,1062.5 1218.3,1060.7 1219.1,1058.8C1219.9,1057.0 1220.6,1055.1 1221.4,1053.2C1222.1,1051.4 1222.9,1049.5 1223.6,1047.7C1224.4,1045.8 1225.2,1044.0 1225.9,1042.1C1226.7,1040.2 1227.4,1038.4 1228.2,1036.5C1229.0,1034.7 1229.7,1032.8 1230.5,1031.0C1231.2,1029.1 1232.0,1027.3 1232.8,1025.4C1233.5,1023.6 1234.3,1021.7 1235.0,1019.9C1235.8,1018.0 1236.6,1016.2 1237.3,1014.3C1238.1,1012.5 1238.9,1010.6 1239.6,1008.8C1240.4,1006.9 1241.2,1005.1 1241.9,1003.2C1242.7,1001.4 1243.5,999.5 1244.2,997.7C1245.0,995.8 1245.8,994.0 1246.5,992.1C1247.3,990.3 1248.1,988.4 1248.8,986.6C1249.6,984.7 1250.4,982.9 1251.1,981.0C1251.9,979.2 1252.7,977.4 1253.4,975.5C1254.2,973.7 1255.0,971.8 1255.8,970.0C1256.5,968.1 1257.3,966.3 1258.1,964.4C1258.9,962.6 1259.6,960.8 1260.4,958.9C1261.2,957.1 1262.0,955.2 1262.7,953.4C1263.5,951.6 1264.3,949.7 1265.1,947.9C1265.8,946.0 1266.6,944.2 1267.4,942.4C1268.2,940.5 1269.0,938.7 1269.7,936.9C1270.5,935.0 1271.3,933.2 1272.1,931.3C1272.9,929.5 1273.7,927.7 1274.4,925.8C1275.2,924.0 1276.0,922.2 1276.8,920.3C1277.6,918.5 1278.4,916.7 1279.2,914.8C1279.9,913.0 1280.7,911.2 1281.5,909.3C1282.3,907.5 1283.1,905.7 1283.9,903.8C1284.7,902.0 1285.5,900.2 1286.3,898.3C1287.0,896.5 1287.8,894.7 1288.6,892.9C1289.4,891.0 1290.2,889.2 1291.0,887.4C1291.8,885.5 1292.6,883.7 1293.4,881.9C1294.2,880.1 1295.0,878.2 1295.8,876.4C1296.6,874.6 1297.4,872.7 1298.2,870.9C1299.0,869.1 1299.8,867.3 1300.6,865.4C1301.4,863.6 1302.2,861.8 1303.0,860.0C1303.8,858.2 1304.6,856.3 1305.4,854.5C1306.2,852.7 1307.0,850.9 1307.9,849.0C1308.7,847.2 1309.5,845.4 1310.3,843.6C1311.1,841.8 1311.9,839.9 1312.7,838.1C1313.5,836.3 1314.3,834.5 1315.2,832.7C1316.0,830.8 1316.8,829.0 1317.6,827.2C1318.4,825.4 1319.2,823.6 1320.1,821.8C1320.9,819.9 1321.7,818.1 1322.5,816.3C1323.3,814.5 1324.2,812.7 1325.0,810.9C1325.8,809.0 1326.6,807.2 1327.4,805.4C1328.3,803.6 1329.1,801.8 1329.9,800.0C1330.8,798.2 1331.6,796.4 1332.4,794.5C1333.2,792.7 1334.1,790.9 1334.9,789.1C1335.7,787.3 1336.6,785.5 1337.4,783.7C1338.2,781.9 1339.1,780.1 1339.9,778.3C1340.7,776.4 1341.6,774.6 1342.4,772.8C1343.3,771.0 1344.1,769.2 1344.9,767.4C1345.8,765.6 1346.6,763.8 1347.5,762.0C1348.3,760.2 1349.2,758.4 1350.0,756.6C1350.8,754.8 1351.7,753.0 1352.5,751.2C1353.4,749.4 1354.2,747.6 1355.1,745.8C1355.9,743.9 1356.8,742.1 1357.6,740.3C1358.5,738.5 1359.4,736.7 1360.2,734.9C1361.1,733.1 1361.9,731.3 1362.8,729.5C1363.6,727.7 1364.5,725.9 1365.4,724.1C1366.2,722.3 1367.1,720.5 1367.9,718.7C1368.8,717.0 1369.7,715.2 1370.5,713.4C1371.4,711.6 1372.3,709.8 1373.1,708.0C1374.0,706.2 1374.9,704.4 1375.8,702.6C1376.6,700.8 1377.5,699.0 1378.4,697.2C1379.3,695.4 1380.1,693.6 1381.0,691.8C1381.9,690.0 1382.8,688.2 1383.6,686.4C1384.5,684.7 1385.4,682.9 1386.3,681.1C1387.2,679.3 1388.1,677.5 1388.9,675.7C1389.8,673.9 1390.7,672.1 1391.6,670.3C1392.5,668.5 1393.4,666.8 1394.3,665.0C1395.2,663.2 1396.1,661.4 1397.0,659.6C1397.9,657.8 1398.8,656.0 1399.7,654.3C1400.6,652.5 1401.5,650.7 1402.4,648.9C1403.3,647.1 1404.2,645.3 1405.1,643.5C1406.0,641.8 1406.9,640.0 1407.8,638.2C1408.7,636.4 1409.6,634.6 1410.5,632.9C1411.4,631.1 1412.3,629.3 1413.3,627.5C1414.2,625.7 1415.1,623.9 1416.0,622.2C1416.9,620.4 1417.8,618.6 1418.8,616.8C1419.7,615.1 1420.6,613.3 1421.5,611.5C1422.4,609.7 1423.4,607.9 1424.3,606.2C1425.2,604.4 1426.2,602.6 1427.1,600.8C1428.0,599.1 1428.9,597.3 1429.9,595.5C1430.8,593.7 1431.8,592.0 1432.7,590.2C1433.6,588.4 1434.6,586.6 1435.5,584.9C1436.4,583.1 1437.4,581.3 1438.3,579.6C1439.3,577.8 1440.2,576.0 1441.2,574.2C1442.1,572.5 1443.1,570.7 1444.0,568.9C1445.0,567.2 1445.9,565.4 1446.9,563.6C1447.8,561.9 1448.8,560.1 1449.8,558.3C1450.7,556.6 1451.7,554.8 1452.6,553.0C1453.6,551.3 1454.6,549.5 1455.5,547.7C1456.5,546.0 1457.5,544.2 1458.4,542.4C1459.4,540.7 1460.4,538.9 1461.3,537.1C1462.3,535.4 1463.3,533.6 1464.3,531.9C1465.2,530.1 1466.2,528.3 1467.2,526.6C1468.2,524.8 1469.2,523.1 1470.2,521.3C1471.1,519.5 1472.1,517.8 1473.1,516.0C1474.1,514.3 1475.1,512.5 1476.1,510.7C1477.1,509.0 1478.1,507.2 1479.1,505.5C1480.1,503.7 1481.1,502.0 1482.1,500.2C1483.1,498.4 1484.1,496.7 1485.1,494.9C1486.1,493.2 1487.1,491.4 1488.1,489.7C1489.1,487.9 1490.1,486.2 1491.1,484.4C1492.1,482.7 1493.1,480.9 1494.2,479.2C1495.2,477.4 1496.2,475.7 1497.2,473.9C1498.2,472.2 1499.3,470.4 1500.3,468.7C1501.3,466.9 1502.3,465.2 1503.4,463.4C1504.4,461.7 1505.4,459.9 1506.4,458.2C1507.5,456.4 1508.5,454.7 1509.5,452.9C1510.6,451.2 1511.6,449.4 1512.7,447.7C1513.7,445.9 1514.7,444.2 1515.8,442.4C1516.8,440.7 1517.9,439.0 1518.9,437.2C1519.9,435.5 1521.0,433.7 1522.0,432.0C1523.1,430.2 1524.1,428.5 1525.2,426.8C1526.2,425.0 1527.2,423.3 1528.3,421.5C1529.3,419.8 1530.4,418.1 1531.4,416.3C1532.5,414.6 1533.5,412.8 1534.6,411.1C1535.6,409.4 1536.7,407.6 1537.7,405.9C1538.8,404.1 1539.8,402.4 1540.8,400.7C1541.9,398.9 1542.9,397.2 1544.0,395.5C1545.0,393.7 1546.1,392.0 1547.1,390.3C1548.2,388.5 1549.2,386.8 1550.2,385.1C1551.3,383.3 1552.3,381.6 1553.4,379.9C1554.4,378.1 1555.4,376.4 1556.5,374.7C1557.5,372.9 1558.6,371.2 1559.6,369.5C1560.6,367.7 1561.7,366.0 1562.7,364.3C1563.7,362.5 1564.7,360.8 1565.8,359.1C1566.8,357.4 1567.8,355.6 1568.8,353.9C1569.9,352.2 1570.9,350.4 1571.9,348.7C1572.9,347.0 1573.9,345.3 1575.0,343.5C1576.0,341.8 1577.0,340.1 1578.0,338.4C1579.0,336.6 1580.0,334.9 1581.0,333.2C1582.0,331.5 1583.0,329.7 1584.0,328.0C1585.0,326.3 1586.0,324.6 1587.0,322.8C1588.0,321.1 1589.0,319.4 1590.0,317.7C1591.0,316.0 1591.9,314.2 1592.9,312.5C1593.9,310.8 1594.9,309.1 1595.8,307.4C1596.8,305.6 1597.8,303.9 1598.7,302.2C1599.7,300.5 1600.7,298.8 1601.6,297.0C1602.6,295.3 1603.5,293.6 1604.5,291.9C1605.4,290.2 1606.4,288.5 1607.3,286.7C1608.2,285.0 1609.2,283.3 1610.1,281.6C1611.0,279.9 1612.0,278.2 1612.9,276.4C1613.8,274.7 1614.7,273.0 1615.6,271.3C1616.5,269.6 1617.4,267.9 1618.3,266.2C1619.2,264.4 1620.1,262.7 1621.0,261.0C1621.9,259.3 1622.8,257.6 1623.7,255.9C1624.6,254.2 1625.5,252.5 1626.3,250.7C1627.2,249.0 1628.1,247.3 1629.0,245.6C1629.9,243.9 1630.7,242.2 1631.6,240.5C1632.5,238.8 1633.4,237.1 1634.3,235.4C1635.1,233.7 1636.0,231.9 1636.9,230.2C1637.8,228.5 1638.7,226.8 1639.6,225.1C1640.5,223.4 1641.4,221.7 1642.3,220.0C1643.2,218.3 1644.1,216.6 1645.0,214.9C1645.9,213.2 1646.8,211.5 1647.7,209.8C1648.6,208.1 1649.5,206.4 1650.5,204.7C1651.4,202.9 1652.3,201.2 1653.3,199.5C1654.2,197.8 1655.2,196.1 1656.1,194.4C1657.1,192.7 1658.1,191.0 1659.1,189.3C1660.0,187.6 1661.0,185.9 1662.0,184.2C1663.0,182.5 1664.1,180.8 1665.1,179.1C1666.1,177.4 1667.1,175.7 1668.2,174.0C1669.2,172.3 1670.3,170.6 1671.4,168.9C1672.5,167.2 1673.6,165.5 1674.7,163.8C1675.8,162.1 1676.9,160.4 1678.0,158.7C1679.2,157.0 1680.3,155.3 1681.5,153.7C1682.7,152.0 1683.8,150.3 1685.0,148.6C1686.2,146.9 1687.5,145.2 1688.7,143.5C1689.9,141.8 1691.2,140.1 1692.5,138.5C1693.7,136.8 1695.0,135.2 1696.3,133.5C1697.7,131.9 1699.0,130.3 1700.3,128.7C1701.7,127.1 1703.0,125.5 1704.4,123.9C1705.8,122.4 1707.2,120.8 1708.6,119.3C1710.0,117.8 1711.5,116.3 1713.0,114.8C1714.4,113.4 1715.9,112.0 1717.4,110.6C1718.9,109.2 1720.4,107.8 1722.0,106.5C1723.5,105.2 1725.1,103.9 1726.7,102.6C1728.2,101.4 1729.8,100.2 1731.5,99.1C1733.1,97.9 1734.7,96.8 1736.4,95.7C1738.1,94.7 1739.8,93.7 1741.5,92.7C1743.2,91.8 1744.9,90.9 1746.7,90.0C1748.4,89.2 1750.2,88.4 1752.0,87.6C1753.8,86.9 1755.6,86.2 1757.5,85.6C1759.3,85.0 1761.1,84.2 1763.0,83.9C1764.9,83.6 1766.8,83.8 1768.7,83.8C1770.7,83.8 1772.6,83.8 1774.5,83.8C1776.5,83.8 1778.5,83.8 1780.4,83.8C1782.4,83.8 1784.4,83.8 1786.4,83.8C1788.4,83.8 1790.4,83.8 1792.5,83.8C1794.5,83.8 1796.5,83.8 1798.6,83.8C1800.6,83.8 1802.7,83.8 1804.8,83.8C1806.9,83.8 1808.9,83.8 1811.0,83.8C1813.1,83.8 1815.2,83.8 1817.3,83.8C1819.4,83.8 1821.5,83.8 1823.6,83.8C1825.8,83.8 1827.9,83.8 1830.0,83.8C1883.3,83.8 1936.7,83.8 1990.0,83.8"/>
<path stroke="#d42620" d="M340.0,1825.5C342.0,1825.5 344.0,1825.5 346.0,1825.5C348.0,1825.5 350.0,1825.5 352.0,1825.5C354.0,1825.5 356.0,1825.5 358.0,1825.4C360.0,1825.4 362.0,1825.3 363.9,1825.2C365.9,1825.1 367.9,1825.0 369.9,1824.9C371.9,1824.8 373.9,1824.7 375.9,1824.6C377.8,1824.4 379.8,1824.3 381.8,1824.1C383.8,1823.9 385.8,1823.8 387.7,1823.6C389.7,1823.4 391.7,1823.2 393.7,1823.0C395.6,1822.7 397.6,1822.5 399.6,1822.3C401.5,1822.0 403.5,1821.8 405.5,1821.5C407.5,1821.2 409.4,1821.0 411.4,1820.7C413.4,1820.4 415.3,1820.1 417.3,1819.8C419.2,1819.5 421.2,1819.2 423.2,1818.8C425.1,1818.5 427.1,1818.2 429.0,1817.8C431.0,1817.5 433.0,1817.1 434.9,1816.7C436.9,1816.4 438.8,1816.0 440.8,1815.6C442.8,1815.2 444.7,1814.8 446.7,1814.4C448.6,1814.0 450.6,1813.6 452.5,1813.2C454.5,1812.8 456.4,1812.3 458.4,1811.9C460.3,1811.5 462.3,1811.0 464.2,1810.6C466.2,1810.1 468.1,1809.7 470.1,1809.2C472.0,1808.8 474.0,1808.3 475.9,1807.8C477.9,1807.3 479.8,1806.9 481.8,1806.4C483.7,1805.9 485.7,1805.4 487.6,1804.9C489.6,1804.4 491.5,1803.9 493.4,1803.4C495.4,1802.9 497.3,1802.3 499.3,1801.8C501.2,1801.3 503.2,1800.8 505.1,1800.3C507.1,1799.7 509.0,1799.2 510.9,1798.7C512.9,1798.1 514.8,1797.6 516.8,1797.1C518.7,1796.5 520.7,1796.0 522.6,1795.4C524.5,1794.9 526.5,1794.3 528.4,1793.8C530.4,1793.2 532.3,1792.7 534.3,1792.1C536.2,1791.6 538.1,1791.0 540.1,1790.4C542.0,1789.9 544.0,1789.3 545.9,1788.8C547.9,1788.2 549.8,1787.6 551.8,1787.1C553.7,1786.5 555.6,1786.0 557.6,1785.4C559.5,1784.8 561.5,1784.3 563.4,1783.7C565.4,1783.1 567.3,1782.6 569.3,1782.0C571.2,1781.5 573.2,1780.9 575.1,1780.3C577.0,1779.8 579.0,1779.2 580.9,1778.7C582.9,1778.1 584.8,1777.6 586.8,1777.0C588.7,1776.4 590.7,1775.9 592.6,1775.3C594.6,1774.8 596.5,1774.3 598.5,1773.7C600.4,1773.2 602.4,1772.6 604.3,1772.1C606.3,1771.6 608.3,1771.0 610.2,1770.5C612.2,1770.0 614.1,1769.4 616.1,1768.9C618.0,1768.4 620.0,1767.9 621.9,1767.4C623.9,1766.9 625.9,1766.4 627.8,1765.9C629.8,1765.4 631.7,1764.9 633.7,1764.4C635.7,1763.9 637.6,1763.4 639.6,1762.9C641.6,1762.4 643.5,1762.0 645.5,1761.5C647.5,1761.0 649.4,1760.6 651.4,1760.1C653.4,1759.7 655.3,1759.2 657.3,1758.8C659.3,1758.3 661.3,1757.9 663.2,1757.5C665.2,1757.1 667.2,1756.7 669.2,1756.2C671.1,1755.8 673.1,1755.4 675.1,1755.1C677.1,1754.7 679.1,1754.3 681.0,1753.9C683.0,1753.5 685.0,1753.2 687.0,1752.8C689.0,1752.5 691.0,1752.1 693.0,1751.8C694.9,1751.5 696.9,1751.1 698.9,1750.8C700.9,1750.5 702.9,1750.2 704.9,1749.9C706.9,1749.6 708.9,1749.3 710.9,1749.1C712.9,1748.8 714.9,1748.5 716.9,1748.3C718.9,1748.0 720.9,1747.8 722.9,1747.5C724.9,1747.3 726.9,1747.0 728.9,1746.8C730.9,1746.5 732.9,1746.3 734.9,1746.1C736.9,1745.9 738.9,1745.6 740.9,1745.4C742.9,1745.2 744.9,1745.0 746.9,1744.8C748.9,1744.5 750.9,1744.3 752.9,1744.1C754.9,1743.9 756.9,1743.7 758.9,1743.4C760.9,1743.2 762.9,1743.0 764.9,1742.8C766.9,1742.5 768.9,1742.3 770.9,1742.1C772.9,1741.8 774.9,1741.6 776.9,1741.4C778.8,1741.1 780.8,1740.9 782.8,1740.6C784.8,1740.4 786.8,1740.1 788.7,1739.8C790.7,1739.5 792.7,1739.3 794.7,1739.0C796.6,1738.7 798.6,1738.4 800.6,1738.1C802.5,1737.8 804.5,1737.4 806.4,1737.1C808.4,1736.8 810.3,1736.4 812.3,1736.1C814.2,1735.7 816.2,1735.3 818.1,1735.0C820.1,1734.6 822.0,1734.2 823.9,1733.7C825.9,1733.3 827.8,1732.9 829.7,1732.4C831.6,1732.0 833.5,1731.5 835.4,1731.0C837.4,1730.6 839.3,1730.0 841.2,1729.5C843.1,1729.0 844.9,1728.4 846.8,1727.9C848.7,1727.3 850.6,1726.7 852.5,1726.1C854.3,1725.5 856.2,1724.9 858.1,1724.2C859.9,1723.6 861.8,1722.9 863.6,1722.2C865.5,1721.5 867.3,1720.8 869.1,1720.1C871.0,1719.3 872.8,1718.6 874.6,1717.8C876.4,1717.0 878.2,1716.2 880.0,1715.4C881.8,1714.6 883.6,1713.7 885.4,1712.9C887.2,1712.0 889.0,1711.2 890.7,1710.3C892.5,1709.4 894.3,1708.5 896.0,1707.5C897.8,1706.6 899.5,1705.7 901.2,1704.7C903.0,1703.8 904.7,1702.8 906.4,1701.8C908.1,1700.8 909.8,1699.8 911.5,1698.7C913.2,1697.7 914.9,1696.7 916.6,1695.6C918.2,1694.5 919.9,1693.5 921.6,1692.4C923.2,1691.3 924.8,1690.2 926.5,1689.0C928.1,1687.9 929.7,1686.8 931.3,1685.6C932.9,1684.5 934.5,1683.3 936.1,1682.1C937.7,1681.0 939.3,1679.8 940.9,1678.6C942.4,1677.3 944.0,1676.1 945.5,1674.9C947.1,1673.7 948.6,1672.4 950.1,1671.1C951.6,1669.9 953.1,1668.6 954.6,1667.3C956.1,1666.0 957.6,1664.7 959.1,1663.4C960.6,1662.1 962.0,1660.8 963.5,1659.5C964.9,1658.1 966.4,1656.8 967.8,1655.4C969.2,1654.0 970.7,1652.7 972.1,1651.3C973.5,1649.9 974.9,1648.5 976.3,1647.1C977.7,1645.7 979.0,1644.3 980.4,1642.9C981.8,1641.4 983.2,1640.0 984.5,1638.5C985.9,1637.1 987.2,1635.6 988.5,1634.2C989.9,1632.7 991.2,1631.2 992.5,1629.7C993.8,1628.2 995.1,1626.7 996.4,1625.2C997.7,1623.7 999.0,1622.2 1000.3,1620.7C1001.5,1619.2 1002.8,1617.6 1004.1,1616.1C1005.3,1614.5 1006.6,1613.0 1007.8,1611.4C1009.1,1609.9 1010.3,1608.3 1011.5,1606.7C1012.7,1605.1 1014.0,1603.5 1015.2,1601.9C1016.4,1600.3 1017.6,1598.7 1018.8,1597.1C1019.9,1595.5 1021.1,1593.9 1022.3,1592.3C1023.5,1590.6 1024.6,1589.0 1025.8,1587.4C1027.0,1585.7 1028.1,1584.1 1029.2,1582.4C1030.4,1580.8 1031.5,1579.1 1032.7,1577.4C1033.8,1575.8 1034.9,1574.1 1036.0,1572.4C1037.1,1570.7 1038.2,1569.0 1039.3,1567.4C1040.4,1565.7 1041.5,1564.0 1042.6,1562.3C1043.7,1560.6 1044.7,1558.8 1045.8,1557.1C1046.9,1555.4 1047.9,1553.7 1049.0,1552.0C1050.1,1550.2 1051.1,1548.5 1052.1,1546.8C1053.2,1545.0 1054.2,1543.3 1055.3,1541.6C1056.3,1539.8 1057.3,1538.1 1058.3,1536.3C1059.3,1534.6 1060.3,1532.8 1061.3,1531.1C1062.3,1529.3 1063.3,1527.5 1064.3,1525.8C1065.3,1524.0 1066.3,1522.2 1067.3,1520.5C1068.3,1518.7 1069.2,1516.9 1070.2,1515.1C1071.2,1513.4 1072.1,1511.6 1073.1,1509.8C1074.1,1508.0 1075.0,1506.2 1076.0,1504.4C1076.9,1502.6 1077.8,1500.9 1078.8,1499.1C1079.7,1497.3 1080.7,1495.5 1081.6,1493.7C1082.5,1491.9 1083.4,1490.1 1084.3,1488.3C1085.3,1486.5 1086.2,1484.7 1087.1,1482.9C1088.0,1481.1 1088.9,1479.3 1089.8,1477.5C1090.7,1475.7 1091.6,1473.9 1092.5,1472.1C1093.3,1470.3 1094.2,1468.4 1095.1,1466.6C1096.0,1464.8 1096.9,1463.0 1097.7,1461.2C1098.6,1459.4 1099.5,1457.6 1100.3,1455.7C1101.2,1453.9 1102.0,1452.1 1102.9,1450.3C1103.7,1448.5 1104.6,1446.6 1105.4,1444.8C1106.3,1443.0 1107.1,1441.2 1108.0,1439.3C1108.8,1437.5 1109.6,1435.7 1110.5,1433.9C1111.3,1432.0 1112.1,1430.2 1112.9,1428.4C1113.8,1426.5 1114.6,1424.7 1115.4,1422.9C1116.2,1421.0 1117.0,1419.2 1117.8,1417.3C1118.6,1415.5 1119.4,1413.7 1120.2,1411.8C1121.0,1410.0 1121.8,1408.2 1122.6,1406.3C1123.4,1404.5 1124.2,1402.6 1125.0,1400.8C1125.7,1398.9 1126.5,1397.1 1127.3,1395.2C1128.1,1393.4 1128.9,1391.5 1129.6,1389.7C1130.4,1387.8 1131.2,1386.0 1131.9,1384.1C1132.7,1382.3 1133.5,1380.4 1134.2,1378.6C1135.0,1376.7 1135.7,1374.9 1136.5,1373.0C1137.2,1371.2 1138.0,1369.3 1138.7,1367.4C1139.5,1365.6 1140.2,1363.7 1141.0,1361.9C1141.7,1360.0 1142.5,1358.2 1143.2,1356.3C1143.9,1354.4 1144.7,1352.6 1145.4,1350.7C1146.1,1348.8 1146.9,1347.0 1147.6,1345.1C1148.3,1343.2 1149.0,1341.4 1149.8,1339.5C1150.5,1337.7 1151.2,1335.8 1151.9,1333.9C1152.7,1332.0 1153.4,1330.2 1154.1,1328.3C1154.8,1326.4 1155.5,1324.6 1156.2,1322.7C1156.9,1320.8 1157.6,1319.0 1158.3,1317.1C1159.1,1315.2 1159.8,1313.3 1160.5,1311.5C1161.2,1309.6 1161.9,1307.7 1162.6,1305.8C1163.3,1304.0 1164.0,1302.1 1164.7,1300.2C1165.4,1298.3 1166.1,1296.5 1166.7,1294.6C1167.4,1292.7 1168.1,1290.8 1168.8,1289.0C1169.5,1287.1 1170.2,1285.2 1170.9,1283.3C1171.6,1281.5 1172.3,1279.6 1173.0,1277.7C1173.6,1275.8 1174.3,1273.9 1175.0,1272.1C1175.7,1270.2 1176.4,1268.3 1177.1,1266.4C1177.7,1264.5 1178.4,1262.7 1179.1,1260.8C1179.8,1258.9 1180.5,1257.0 1181.1,1255.1C1181.8,1253.3 1182.5,1251.4 1183.2,1249.5C1183.8,1247.6 1184.5,1245.7 1185.2,1243.8C1185.9,1242.0 1186.5,1240.1 1187.2,1238.2C1187.9,1236.3 1188.6,1234.4 1189.2,1232.5C1189.9,1230.7 1190.6,1228.8 1191.3,1226.9C1191.9,1225.0 1192.6,1223.1 1193.3,1221.2C1194.0,1219.4 1194.6,1217.5 1195.3,1215.6C1196.0,1213.7 1196.6,1211.8 1197.3,1209.9C1198.0,1208.1 1198.7,1206.2 1199.3,1204.3C1200.0,1202.4 1200.7,1200.5 1201.4,1198.7C1202.0,1196.8 1202.7,1194.9 1203.4,1193.0C1204.0,1191.1 1204.7,1189.2 1205.4,1187.4C1206.1,1185.5 1206.7,1183.6 1207.4,1181.7C1208.1,1179.8 1208.8,1177.9 1209.4,1176.1C1210.1,1174.2 1210.8,1172.3 1211.5,1170.4C1212.2,1168.5 1212.8,1166.7 1213.5,1164.8C1214.2,1162.9 1214.9,1161.0 1215.5,1159.1C1216.2,1157.3 1216.9,1155.4 1217.6,1153.5C1218.3,1151.6 1219.0,1149.8 1219.6,1147.9C1220.3,1146.0 1221.0,1144.1 1221.7,1142.2C1222.4,1140.4 1223.1,1138.5 1223.7,1136.6C1224.4,1134.7 1225.1,1132.8 1225.8,1131.0C1226.5,1129.1 1227.2,1127.2 1227.9,1125.3C1228.5,1123.5 1229.2,1121.6 1229.9,1119.7C1230.6,1117.8 1231.3,1116.0 1232.0,1114.1C1232.7,1112.2 1233.4,1110.3 1234.1,1108.5C1234.8,1106.6 1235.5,1104.7 1236.1,1102.8C1236.8,1101.0 1237.5,1099.1 1238.2,1097.2C1238.9,1095.3 1239.6,1093.5 1240.3,1091.6C1241.0,1089.7 1241.7,1087.9 1242.4,1086.0C1243.1,1084.1 1243.8,1082.2 1244.5,1080.4C1245.2,1078.5 1245.9,1076.6 1246.6,1074.7C1247.3,1072.9 1248.0,1071.0 1248.7,1069.1C1249.4,1067.3 1250.1,1065.4 1250.8,1063.5C1251.5,1061.6 1252.2,1059.8 1252.9,1057.9C1253.6,1056.0 1254.3,1054.2 1255.0,1052.3C1255.7,1050.4 1256.4,1048.6 1257.1,1046.7C1257.9,1044.8 1258.6,1043.0 1259.3,1041.1C1260.0,1039.2 1260.7,1037.3 1261.4,1035.5C1262.1,1033.6 1262.8,1031.7 1263.5,1029.9C1264.2,1028.0 1264.9,1026.1 1265.7,1024.3C1266.4,1022.4 1267.1,1020.5 1267.8,1018.7C1268.5,1016.8 1269.2,1014.9 1269.9,1013.1C1270.7,1011.2 1271.4,1009.3 1272.1,1007.5C1272.8,1005.6 1273.5,1003.7 1274.2,1001.9C1275.0,1000.0 1275.7,998.2 1276.4,996.3C1277.1,994.4 1277.8,992.6 1278.5,990.7C1279.3,988.8 1280.0,987.0 1280.7,985.1C1281.4,983.2 1282.2,981.4 1282.9,979.5C1283.6,977.7 1284.3,975.8 1285.1,973.9C1285.8,972.1 1286.5,970.2 1287.2,968.3C1288.0,966.5 1288.7,964.6 1289.4,962.8C1290.1,960.9 1290.9,959.0 1291.6,957.2C1292.3,955.3 1293.0,953.4 1293.8,951.6C1294.5,949.7 1295.2,947.9 1296.0,946.0C1296.7,944.1 1297.4,942.3 1298.2,940.4C1298.9,938.6 1299.6,936.7 1300.4,934.9C1301.1,933.0 1301.8,931.1 1302.6,929.3C1303.3,927.4 1304.0,925.6 1304.8,923.7C1305.5,921.8 1306.3,920.0 1307.0,918.1C1307.7,916.3 1308.5,914.4 1309.2,912.6C1310.0,910.7 1310.7,908.8 1311.4,907.0C1312.2,905.1 1312.9,903.3 1313.7,901.4C1314.4,899.6 1315.2,897.7 1315.9,895.8C1316.6,894.0 1317.4,892.1 1318.1,890.3C1318.9,888.4 1319.6,886.6 1320.4,884.7C1321.1,882.9 1321.9,881.0 1322.6,879.2C1323.4,877.3 1324.1,875.4 1324.9,873.6C1325.6,871.7 1326.4,869.9 1327.1,868.0C1327.9,866.2 1328.6,864.3 1329.4,862.5C1330.1,860.6 1330.9,858.8 1331.6,856.9C1332.4,855.1 1333.2,853.2 1333.9,851.4C1334.7,849.5 1335.4,847.7 1336.2,845.8C1336.9,844.0 1337.7,842.1 1338.5,840.3C1339.2,838.4 1340.0,836.6 1340.7,834.7C1341.5,832.9 1342.3,831.0 1343.0,829.2C1343.8,827.3 1344.5,825.5 1345.3,823.6C1346.1,821.8 1346.8,819.9 1347.6,818.1C1348.4,816.2 1349.1,814.4 1349.9,812.5C1350.7,810.7 1351.4,808.8 1352.2,807.0C1353.0,805.1 1353.7,803.3 1354.5,801.4C1355.3,799.6 1356.1,797.7 1356.8,795.9C1357.6,794.0 1358.4,792.2 1359.1,790.3C1359.9,788.5 1360.7,786.7 1361.5,784.8C1362.2,783.0 1363.0,781.1 1363.8,779.3C1364.6,777.4 1365.3,775.6 1366.1,773.7C1366.9,771.9 1367.7,770.0 1368.4,768.2C1369.2,766.4 1370.0,764.5 1370.8,762.7C1371.6,760.8 1372.3,759.0 1373.1,757.1C1373.9,755.3 1374.7,753.4 1375.5,751.6C1376.3,749.8 1377.0,747.9 1377.8,746.1C1378.6,744.2 1379.4,742.4 1380.2,740.5C1381.0,738.7 1381.8,736.9 1382.6,735.0C1383.3,733.2 1384.1,731.3 1384.9,729.5C1385.7,727.7 1386.5,725.8 1387.3,724.0C1388.1,722.1 1388.9,720.3 1389.7,718.5C1390.5,716.6 1391.3,714.8 1392.0,712.9C1392.8,711.1 1393.6,709.3 1394.4,707.4C1395.2,705.6 1396.0,703.7 1396.8,701.9C1397.6,700.1 1398.4,698.2 1399.2,696.4C1400.0,694.5 1400.8,692.7 1401.6,690.9C1402.4,689.0 1403.2,687.2 1404.0,685.3C1404.8,683.5 1405.6,681.7 1406.4,679.8C1407.2,678.0 1408.0,676.2 1408.8,674.3C1409.7,672.5 1410.5,670.7 1411.3,668.8C1412.1,667.0 1412.9,665.1 1413.7,663.3C1414.5,661.5 1415.3,659.6 1416.1,657.8C1416.9,656.0 1417.7,654.1 1418.5,652.3C1419.4,650.5 1420.2,648.6 1421.0,646.8C1421.8,645.0 1422.6,643.1 1423.4,641.3C1424.2,639.5 1425.1,637.6 1425.9,635.8C1426.7,634.0 1427.5,632.1 1428.3,630.3C1429.1,628.5 1430.0,626.6 1430.8,624.8C1431.6,623.0 1432.4,621.1 1433.2,619.3C1434.1,617.5 1434.9,615.6 1435.7,613.8C1436.5,612.0 1437.4,610.1 1438.2,608.3C1439.0,606.5 1439.8,604.6 1440.7,602.8C1441.5,601.0 1442.3,599.1 1443.1,597.3C1444.0,595.5 1444.8,593.6 1445.6,591.8C1446.5,590.0 1447.3,588.2 1448.1,586.3C1449.0,584.5 1449.8,582.7 1450.6,580.8C1451.5,579.0 1452.3,577.2 1453.1,575.4C1454.0,573.5 1454.8,571.7 1455.6,569.9C1456.5,568.0 1457.3,566.2 1458.1,564.4C1459.0,562.6 1459.8,560.7 1460.7,558.9C1461.5,557.1 1462.3,555.2 1463.2,553.4C1464.0,551.6 1464.9,549.8 1465.7,547.9C1466.5,546.1 1467.4,544.3 1468.2,542.5C1469.1,540.6 1469.9,538.8 1470.8,537.0C1471.6,535.2 1472.5,533.3 1473.3,531.5C1474.2,529.7 1475.0,527.9 1475.9,526.0C1476.7,524.2 1477.6,522.4 1478.4,520.6C1479.3,518.7 1480.1,516.9 1481.0,515.1C1481.8,513.3 1482.7,511.4 1483.5,509.6C1484.4,507.8 1485.2,506.0 1486.1,504.1C1487.0,502.3 1487.8,500.5 1488.7,498.7C1489.5,496.8 1490.4,495.0 1491.2,493.2C1492.1,491.4 1493.0,489.6 1493.8,487.7C1494.7,485.9 1495.6,484.1 1496.4,482.3C1497.3,480.4 1498.1,478.6 1499.0,476.8C1499.9,475.0 1500.7,473.2 1501.6,471.3C1502.5,469.5 1503.3,467.7 1504.2,465.9C1505.1,464.1 1505.9,462.2 1506.8,460.4C1507.7,458.6 1508.6,456.8 1509.4,455.0C1510.3,453.1 1511.2,451.3 1512.0,449.5C1512.9,447.7 1513.8,445.9 1514.7,444.1C1515.6,442.2 1516.4,440.4 1517.3,438.6C1518.2,436.8 1519.1,435.0 1519.9,433.2C1520.8,431.3 1521.7,429.5 1522.6,427.7C1523.5,425.9 1524.4,424.1 1525.2,422.3C1526.1,420.5 1527.0,418.7 1527.9,416.8C1528.8,415.0 1529.7,413.2 1530.6,411.4C1531.5,409.6 1532.4,407.8 1533.3,406.0C1534.1,404.2 1535.0,402.4 1535.9,400.6C1536.8,398.8 1537.7,397.0 1538.6,395.2C1539.5,393.4 1540.4,391.6 1541.3,389.8C1542.2,388.0 1543.1,386.2 1544.1,384.4C1545.0,382.6 1545.9,380.8 1546.8,379.0C1547.7,377.2 1548.6,375.4 1549.5,373.6C1550.4,371.8 1551.3,370.0 1552.2,368.2C1553.2,366.5 1554.1,364.7 1555.0,362.9C1555.9,361.1 1556.8,359.3 1557.8,357.5C1558.7,355.7 1559.6,354.0 1560.5,352.2C1561.5,350.4 1562.4,348.6 1563.3,346.9C1564.3,345.1 1565.2,343.3 1566.1,341.5C1567.1,339.8 1568.0,338.0 1568.9,336.2C1569.9,334.5 1570.8,332.7 1571.8,330.9C1572.7,329.2 1573.6,327.4 1574.6,325.6C1575.5,323.9 1576.5,322.1 1577.4,320.4C1578.4,318.6 1579.3,316.9 1580.3,315.1C1581.3,313.4 1582.2,311.6 1583.2,309.9C1584.1,308.1 1585.1,306.4 1586.1,304.6C1587.0,302.9 1588.0,301.2 1589.0,299.4C1589.9,297.7 1590.9,296.0 1591.9,294.2C1592.9,292.5 1593.8,290.8 1594.8,289.0C1595.8,287.3 1596.8,285.6 1597.8,283.9C1598.7,282.1 1599.7,280.4 1600.7,278.7C1601.7,277.0 1602.7,275.3 1603.7,273.6C1604.7,271.9 1605.7,270.2 1606.7,268.4C1607.7,266.7 1608.7,265.0 1609.7,263.3C1610.7,261.6 1611.7,259.9 1612.7,258.3C1613.7,256.6 1614.7,254.9 1615.8,253.2C1616.8,251.5 1617.8,249.8 1618.8,248.1C1619.9,246.5 1620.9,244.8 1621.9,243.1C1623.0,241.4 1624.0,239.8 1625.0,238.1C1626.1,236.4 1627.1,234.8 1628.2,233.1C1629.3,231.4 1630.3,229.8 1631.4,228.1C1632.4,226.5 1633.5,224.8 1634.6,223.2C1635.7,221.5 1636.7,219.9 1637.8,218.2C1638.9,216.6 1640.0,215.0 1641.1,213.3C1642.2,211.7 1643.3,210.1 1644.4,208.4C1645.6,206.8 1646.7,205.2 1647.8,203.6C1648.9,202.0 1650.1,200.3 1651.2,198.7C1652.4,197.1 1653.5,195.5 1654.7,193.9C1655.9,192.3 1657.0,190.7 1658.2,189.1C1659.4,187.5 1660.6,185.9 1661.8,184.3C1662.9,182.8 1664.2,181.2 1665.4,179.6C1666.6,178.0 1667.8,176.4 1669.0,174.9C1670.3,173.3 1671.5,171.7 1672.8,170.2C1674.0,168.6 1675.3,167.1 1676.5,165.5C1677.8,164.0 1679.1,162.4 1680.4,160.9C1681.7,159.3 1683.0,157.8 1684.3,156.2C1685.6,154.7 1686.9,153.2 1688.3,151.7C1689.6,150.1 1690.9,148.6 1692.3,147.1C1693.7,145.6 1695.0,144.1 1696.4,142.6C1697.8,141.1 1699.2,139.6 1700.6,138.2C1702.0,136.7 1703.4,135.3 1704.8,133.8C1706.2,132.4 1707.7,131.0 1709.1,129.6C1710.6,128.2 1712.1,126.8 1713.5,125.4C1715.0,124.0 1716.5,122.7 1718.0,121.3C1719.5,120.0 1721.0,118.7 1722.5,117.4C1724.1,116.1 1725.6,114.9 1727.1,113.6C1728.7,112.4 1730.3,111.2 1731.8,110.0C1733.4,108.8 1735.0,107.7 1736.6,106.5C1738.2,105.4 1739.8,104.3 1741.4,103.2C1743.1,102.2 1744.7,101.1 1746.4,100.1C1748.0,99.1 1749.7,98.2 1751.4,97.2C1753.1,96.3 1754.7,95.4 1756.5,94.5C1758.2,93.7 1759.9,92.8 1761.6,92.0C1763.4,91.3 1765.1,90.5 1766.9,89.8C1768.7,89.1 1770.4,88.4 1772.2,87.8C1774.0,87.2 1775.8,86.6 1777.7,86.1C1779.5,85.5 1781.3,85.0 1783.2,84.6C1785.0,84.2 1786.9,83.9 1788.8,83.8C1790.7,83.7 1792.6,83.8 1794.5,83.8C1796.4,83.8 1798.3,83.8 1800.2,83.8C1802.2,83.8 1804.2,83.8 1806.1,83.8C1808.1,83.8 1810.1,83.8 1812.1,83.8C1814.1,83.8 1816.1,83.8 1818.1,83.8C1820.2,83.8 1822.2,83.8 1824.3,83.8C1826.4,83.8 1828.5,83.8 1830.5,83.8C1832.6,83.8 1834.8,83.8 1836.9,83.8C1839.0,83.8 1841.2,83.8 1843.3,83.8C1845.5,83.8 1847.7,83.8 1849.8,83.8C1852.0,83.8 1854.3,83.8 1856.5,83.8C1858.7,83.8 1860.9,83.8 1863.2,83.8C1865.5,83.8 1867.7,83.8 1870.0,83.8C1942.5,83.8 2015.0,83.8 2087.5,83.8"/>
<path stroke="#050509" d="M340.0,1825.5C506.7,1825.5 673.3,1825.6 840.0,1825.5C841.9,1825.5 843.9,1825.2 845.8,1825.1C847.8,1824.9 849.7,1824.8 851.7,1824.6C853.6,1824.5 855.6,1824.3 857.6,1824.2C859.5,1824.0 861.5,1823.9 863.5,1823.7C865.5,1823.6 867.5,1823.4 869.4,1823.2C871.4,1823.1 873.4,1822.9 875.4,1822.8C877.4,1822.6 879.4,1822.4 881.4,1822.3C883.4,1822.1 885.4,1821.9 887.4,1821.7C889.4,1821.5 891.4,1821.4 893.4,1821.2C895.5,1821.0 897.5,1820.8 899.5,1820.6C901.5,1820.4 903.5,1820.2 905.5,1820.0C907.5,1819.7 909.6,1819.5 911.6,1819.3C913.6,1819.1 915.6,1818.8 917.6,1818.6C919.7,1818.4 921.7,1818.1 923.7,1817.9C925.7,1817.6 927.7,1817.3 929.7,1817.1C931.8,1816.8 933.8,1816.5 935.8,1816.2C937.8,1815.9 939.8,1815.6 941.8,1815.3C943.8,1815.0 945.8,1814.7 947.8,1814.3C949.9,1814.0 951.9,1813.7 953.9,1813.3C955.9,1813.0 957.9,1812.6 959.8,1812.2C961.8,1811.8 963.8,1811.5 965.8,1811.1C967.8,1810.7 969.8,1810.2 971.8,1809.8C973.7,1809.4 975.7,1808.9 977.7,1808.5C979.7,1808.0 981.6,1807.6 983.6,1807.1C985.5,1806.6 987.5,1806.1 989.4,1805.6C991.4,1805.1 993.3,1804.6 995.2,1804.0C997.2,1803.5 999.1,1802.9 1001.0,1802.3C1002.9,1801.8 1004.9,1801.2 1006.8,1800.6C1008.7,1800.0 1010.6,1799.3 1012.5,1798.7C1014.3,1798.0 1016.2,1797.4 1018.1,1796.7C1020.0,1796.0 1021.8,1795.3 1023.7,1794.6C1025.5,1793.9 1027.4,1793.2 1029.2,1792.4C1031.1,1791.7 1032.9,1790.9 1034.7,1790.2C1036.6,1789.4 1038.4,1788.6 1040.2,1787.8C1042.0,1786.9 1043.8,1786.1 1045.6,1785.3C1047.4,1784.4 1049.1,1783.6 1050.9,1782.7C1052.7,1781.8 1054.5,1780.9 1056.2,1780.0C1058.0,1779.1 1059.7,1778.2 1061.5,1777.2C1063.2,1776.3 1064.9,1775.3 1066.7,1774.4C1068.4,1773.4 1070.1,1772.4 1071.8,1771.4C1073.5,1770.4 1075.2,1769.4 1076.9,1768.4C1078.6,1767.4 1080.3,1766.3 1082.0,1765.3C1083.7,1764.2 1085.3,1763.1 1087.0,1762.1C1088.6,1761.0 1090.3,1759.9 1091.9,1758.8C1093.6,1757.7 1095.2,1756.5 1096.9,1755.4C1098.5,1754.3 1100.1,1753.1 1101.7,1752.0C1103.3,1750.8 1104.9,1749.6 1106.5,1748.4C1108.1,1747.3 1109.7,1746.1 1111.3,1744.8C1112.9,1743.6 1114.5,1742.4 1116.0,1741.2C1117.6,1739.9 1119.2,1738.7 1120.7,1737.4C1122.3,1736.2 1123.8,1734.9 1125.3,1733.6C1126.9,1732.4 1128.4,1731.1 1129.9,1729.8C1131.4,1728.5 1133.0,1727.2 1134.5,1725.8C1136.0,1724.5 1137.5,1723.2 1138.9,1721.9C1140.4,1720.5 1141.9,1719.2 1143.4,1717.8C1144.9,1716.4 1146.3,1715.1 1147.8,1713.7C1149.3,1712.3 1150.7,1710.9 1152.1,1709.5C1153.6,1708.1 1155.0,1706.7 1156.5,1705.3C1157.9,1703.9 1159.3,1702.5 1160.7,1701.0C1162.1,1699.6 1163.5,1698.2 1164.9,1696.7C1166.3,1695.3 1167.7,1693.8 1169.1,1692.3C1170.5,1690.9 1171.9,1689.4 1173.2,1687.9C1174.6,1686.4 1176.0,1685.0 1177.3,1683.5C1178.7,1682.0 1180.0,1680.5 1181.3,1679.0C1182.7,1677.4 1184.0,1675.9 1185.3,1674.4C1186.7,1672.9 1188.0,1671.4 1189.3,1669.8C1190.6,1668.3 1191.9,1666.7 1193.2,1665.2C1194.5,1663.7 1195.8,1662.1 1197.1,1660.5C1198.3,1659.0 1199.6,1657.4 1200.9,1655.9C1202.1,1654.3 1203.4,1652.7 1204.6,1651.1C1205.9,1649.6 1207.1,1648.0 1208.4,1646.4C1209.6,1644.8 1210.8,1643.2 1212.1,1641.6C1213.3,1640.0 1214.5,1638.4 1215.7,1636.8C1216.9,1635.2 1218.1,1633.6 1219.3,1632.0C1220.5,1630.4 1221.7,1628.7 1222.9,1627.1C1224.0,1625.5 1225.2,1623.9 1226.4,1622.2C1227.5,1620.6 1228.7,1619.0 1229.9,1617.3C1231.0,1615.7 1232.1,1614.1 1233.3,1612.4C1234.4,1610.8 1235.6,1609.1 1236.7,1607.5C1237.8,1605.8 1238.9,1604.2 1240.0,1602.5C1241.1,1600.9 1242.2,1599.2 1243.3,1597.5C1244.4,1595.9 1245.5,1594.2 1246.6,1592.5C1247.7,1590.9 1248.8,1589.2 1249.9,1587.5C1250.9,1585.8 1252.0,1584.1 1253.1,1582.4C1254.1,1580.8 1255.2,1579.1 1256.2,1577.4C1257.3,1575.7 1258.3,1574.0 1259.3,1572.3C1260.4,1570.6 1261.4,1568.9 1262.4,1567.2C1263.4,1565.5 1264.5,1563.8 1265.5,1562.0C1266.5,1560.3 1267.5,1558.6 1268.5,1556.9C1269.5,1555.2 1270.5,1553.4 1271.5,1551.7C1272.5,1550.0 1273.4,1548.3 1274.4,1546.5C1275.4,1544.8 1276.4,1543.1 1277.3,1541.3C1278.3,1539.6 1279.2,1537.8 1280.2,1536.1C1281.1,1534.4 1282.1,1532.6 1283.0,1530.9C1284.0,1529.1 1284.9,1527.4 1285.8,1525.6C1286.8,1523.8 1287.7,1522.1 1288.6,1520.3C1289.5,1518.6 1290.5,1516.8 1291.4,1515.0C1292.3,1513.3 1293.2,1511.5 1294.1,1509.7C1295.0,1507.9 1295.9,1506.2 1296.8,1504.4C1297.7,1502.6 1298.5,1500.8 1299.4,1499.0C1300.3,1497.2 1301.2,1495.5 1302.0,1493.7C1302.9,1491.9 1303.8,1490.1 1304.6,1488.3C1305.5,1486.5 1306.3,1484.7 1307.2,1482.9C1308.0,1481.1 1308.9,1479.3 1309.7,1477.5C1310.6,1475.7 1311.4,1473.9 1312.2,1472.1C1313.1,1470.3 1313.9,1468.4 1314.7,1466.6C1315.5,1464.8 1316.3,1463.0 1317.2,1461.2C1318.0,1459.4 1318.8,1457.5 1319.6,1455.7C1320.4,1453.9 1321.2,1452.1 1322.0,1450.2C1322.8,1448.4 1323.6,1446.6 1324.4,1444.7C1325.1,1442.9 1325.9,1441.1 1326.7,1439.2C1327.5,1437.4 1328.3,1435.5 1329.0,1433.7C1329.8,1431.9 1330.6,1430.0 1331.3,1428.2C1332.1,1426.3 1332.8,1424.5 1333.6,1422.6C1334.4,1420.8 1335.1,1418.9 1335.8,1417.1C1336.6,1415.2 1337.3,1413.4 1338.1,1411.5C1338.8,1409.6 1339.5,1407.8 1340.3,1405.9C1341.0,1404.1 1341.7,1402.2 1342.5,1400.3C1343.2,1398.5 1343.9,1396.6 1344.6,1394.7C1345.3,1392.9 1346.1,1391.0 1346.8,1389.1C1347.5,1387.3 1348.2,1385.4 1348.9,1383.5C1349.6,1381.6 1350.3,1379.7 1351.0,1377.9C1351.7,1376.0 1352.4,1374.1 1353.1,1372.2C1353.8,1370.3 1354.4,1368.5 1355.1,1366.6C1355.8,1364.7 1356.5,1362.8 1357.2,1360.9C1357.8,1359.0 1358.5,1357.1 1359.2,1355.2C1359.9,1353.4 1360.5,1351.5 1361.2,1349.6C1361.9,1347.7 1362.5,1345.8 1363.2,1343.9C1363.8,1342.0 1364.5,1340.1 1365.2,1338.2C1365.8,1336.3 1366.5,1334.4 1367.1,1332.5C1367.8,1330.6 1368.4,1328.7 1369.1,1326.8C1369.7,1324.9 1370.3,1323.0 1371.0,1321.1C1371.6,1319.2 1372.3,1317.2 1372.9,1315.3C1373.5,1313.4 1374.2,1311.5 1374.8,1309.6C1375.4,1307.7 1376.0,1305.8 1376.7,1303.9C1377.3,1302.0 1377.9,1300.0 1378.5,1298.1C1379.2,1296.2 1379.8,1294.3 1380.4,1292.4C1381.0,1290.5 1381.6,1288.5 1382.2,1286.6C1382.8,1284.7 1383.5,1282.8 1384.1,1280.9C1384.7,1279.0 1385.3,1277.0 1385.9,1275.1C1386.5,1273.2 1387.1,1271.3 1387.7,1269.3C1388.3,1267.4 1388.9,1265.5 1389.5,1263.6C1390.1,1261.6 1390.7,1259.7 1391.3,1257.8C1391.9,1255.9 1392.5,1253.9 1393.1,1252.0C1393.6,1250.1 1394.2,1248.2 1394.8,1246.2C1395.4,1244.3 1396.0,1242.4 1396.6,1240.5C1397.2,1238.5 1397.7,1236.6 1398.3,1234.7C1398.9,1232.7 1399.5,1230.8 1400.1,1228.9C1400.7,1226.9 1401.2,1225.0 1401.8,1223.1C1402.4,1221.2 1403.0,1219.2 1403.5,1217.3C1404.1,1215.4 1404.7,1213.4 1405.3,1211.5C1405.8,1209.6 1406.4,1207.6 1407.0,1205.7C1407.6,1203.8 1408.1,1201.8 1408.7,1199.9C1409.3,1198.0 1409.8,1196.0 1410.4,1194.1C1411.0,1192.2 1411.5,1190.2 1412.1,1188.3C1412.7,1186.4 1413.2,1184.4 1413.8,1182.5C1414.4,1180.6 1414.9,1178.6 1415.5,1176.7C1416.1,1174.8 1416.6,1172.8 1417.2,1170.9C1417.7,1169.0 1418.3,1167.0 1418.9,1165.1C1419.4,1163.2 1420.0,1161.2 1420.6,1159.3C1421.1,1157.4 1421.7,1155.4 1422.2,1153.5C1422.8,1151.6 1423.4,1149.6 1423.9,1147.7C1424.5,1145.8 1425.0,1143.8 1425.6,1141.9C1426.2,1140.0 1426.7,1138.0 1427.3,1136.1C1427.8,1134.2 1428.4,1132.3 1428.9,1130.3C1429.5,1128.4 1430.0,1126.5 1430.6,1124.5C1431.2,1122.6 1431.7,1120.7 1432.3,1118.7C1432.8,1116.8 1433.4,1114.9 1433.9,1112.9C1434.5,1111.0 1435.0,1109.1 1435.6,1107.1C1436.1,1105.2 1436.7,1103.3 1437.2,1101.3C1437.8,1099.4 1438.3,1097.5 1438.9,1095.5C1439.4,1093.6 1440.0,1091.7 1440.5,1089.8C1441.1,1087.8 1441.6,1085.9 1442.2,1084.0C1442.7,1082.0 1443.3,1080.1 1443.8,1078.2C1444.3,1076.2 1444.9,1074.3 1445.4,1072.4C1446.0,1070.4 1446.5,1068.5 1447.1,1066.6C1447.6,1064.6 1448.2,1062.7 1448.7,1060.8C1449.2,1058.8 1449.8,1056.9 1450.3,1055.0C1450.9,1053.1 1451.4,1051.1 1451.9,1049.2C1452.5,1047.3 1453.0,1045.3 1453.6,1043.4C1454.1,1041.5 1454.6,1039.5 1455.2,1037.6C1455.7,1035.7 1456.3,1033.7 1456.8,1031.8C1457.3,1029.9 1457.9,1028.0 1458.4,1026.0C1458.9,1024.1 1459.5,1022.2 1460.0,1020.2C1460.5,1018.3 1461.1,1016.4 1461.6,1014.4C1462.1,1012.5 1462.7,1010.6 1463.2,1008.7C1463.7,1006.7 1464.3,1004.8 1464.8,1002.9C1465.3,1000.9 1465.9,999.0 1466.4,997.1C1466.9,995.1 1467.4,993.2 1468.0,991.3C1468.5,989.4 1469.0,987.4 1469.6,985.5C1470.1,983.6 1470.6,981.6 1471.1,979.7C1471.7,977.8 1472.2,975.8 1472.7,973.9C1473.2,972.0 1473.8,970.1 1474.3,968.1C1474.8,966.2 1475.3,964.3 1475.9,962.3C1476.4,960.4 1476.9,958.5 1477.4,956.5C1477.9,954.6 1478.5,952.7 1479.0,950.8C1479.5,948.8 1480.0,946.9 1480.5,945.0C1481.1,943.0 1481.6,941.1 1482.1,939.2C1482.6,937.3 1483.1,935.3 1483.6,933.4C1484.2,931.5 1484.7,929.5 1485.2,927.6C1485.7,925.7 1486.2,923.7 1486.7,921.8C1487.2,919.9 1487.8,918.0 1488.3,916.0C1488.8,914.1 1489.3,912.2 1489.8,910.2C1490.3,908.3 1490.8,906.4 1491.3,904.5C1491.9,902.5 1492.4,900.6 1492.9,898.7C1493.4,896.7 1493.9,894.8 1494.4,892.9C1494.9,891.0 1495.4,889.0 1495.9,887.1C1496.4,885.2 1496.9,883.2 1497.4,881.3C1497.9,879.4 1498.5,877.5 1499.0,875.5C1499.5,873.6 1500.0,871.7 1500.5,869.7C1501.0,867.8 1501.5,865.9 1502.0,864.0C1502.5,862.0 1503.0,860.1 1503.5,858.2C1504.0,856.2 1504.5,854.3 1505.0,852.4C1505.5,850.5 1506.0,848.5 1506.5,846.6C1507.0,844.7 1507.5,842.7 1508.0,840.8C1508.5,838.9 1509.0,837.0 1509.5,835.0C1510.0,833.1 1510.4,831.2 1510.9,829.3C1511.4,827.3 1511.9,825.4 1512.4,823.5C1512.9,821.5 1513.4,819.6 1513.9,817.7C1514.4,815.8 1514.9,813.8 1515.4,811.9C1515.9,810.0 1516.4,808.0 1516.8,806.1C1517.3,804.2 1517.8,802.3 1518.3,800.3C1518.8,798.4 1519.3,796.5 1519.8,794.6C1520.3,792.6 1520.7,790.7 1521.2,788.8C1521.7,786.8 1522.2,784.9 1522.7,783.0C1523.2,781.1 1523.7,779.1 1524.1,777.2C1524.6,775.3 1525.1,773.3 1525.6,771.4C1526.1,769.5 1526.6,767.6 1527.0,765.6C1527.5,763.7 1528.0,761.8 1528.5,759.8C1529.0,757.9 1529.4,756.0 1529.9,754.1C1530.4,752.1 1530.9,750.2 1531.4,748.3C1531.8,746.3 1532.3,744.4 1532.8,742.5C1533.3,740.6 1533.8,738.6 1534.2,736.7C1534.7,734.8 1535.2,732.8 1535.7,730.9C1536.1,729.0 1536.6,727.0 1537.1,725.1C1537.6,723.2 1538.1,721.3 1538.5,719.3C1539.0,717.4 1539.5,715.5 1540.0,713.5C1540.4,711.6 1540.9,709.7 1541.4,707.7C1541.9,705.8 1542.3,703.9 1542.8,701.9C1543.3,700.0 1543.7,698.1 1544.2,696.1C1544.7,694.2 1545.2,692.3 1545.6,690.3C1546.1,688.4 1546.6,686.5 1547.1,684.5C1547.5,682.6 1548.0,680.7 1548.5,678.7C1548.9,676.8 1549.4,674.9 1549.9,672.9C1550.4,671.0 1550.8,669.1 1551.3,667.1C1551.8,665.2 1552.2,663.2 1552.7,661.3C1553.2,659.4 1553.7,657.4 1554.1,655.5C1554.6,653.6 1555.1,651.6 1555.5,649.7C1556.0,647.8 1556.5,645.8 1556.9,643.9C1557.4,641.9 1557.9,640.0 1558.4,638.1C1558.8,636.1 1559.3,634.2 1559.8,632.2C1560.2,630.3 1560.7,628.4 1561.2,626.4C1561.6,624.5 1562.1,622.5 1562.6,620.6C1563.0,618.6 1563.5,616.7 1564.0,614.8C1564.5,612.8 1564.9,610.9 1565.4,608.9C1565.9,607.0 1566.3,605.0 1566.8,603.1C1567.3,601.2 1567.7,599.2 1568.2,597.3C1568.7,595.3 1569.1,593.4 1569.6,591.4C1570.1,589.5 1570.6,587.5 1571.0,585.6C1571.5,583.6 1572.0,581.7 1572.4,579.7C1572.9,577.8 1573.4,575.8 1573.8,573.9C1574.3,571.9 1574.8,570.0 1575.2,568.0C1575.7,566.1 1576.2,564.1 1576.7,562.2C1577.1,560.2 1577.6,558.3 1578.1,556.3C1578.5,554.4 1579.0,552.4 1579.5,550.4C1579.9,548.5 1580.4,546.5 1580.9,544.6C1581.4,542.6 1581.8,540.7 1582.3,538.7C1582.8,536.8 1583.2,534.8 1583.7,532.8C1584.2,530.9 1584.7,528.9 1585.1,527.0C1585.6,525.0 1586.1,523.0 1586.5,521.1C1587.0,519.1 1587.5,517.2 1588.0,515.2C1588.4,513.2 1588.9,511.3 1589.4,509.3C1589.9,507.3 1590.3,505.4 1590.8,503.4C1591.3,501.4 1591.8,499.5 1592.2,497.5C1592.7,495.5 1593.2,493.6 1593.7,491.6C1594.1,489.6 1594.6,487.7 1595.1,485.7C1595.6,483.7 1596.0,481.7 1596.5,479.8C1597.0,477.8 1597.5,475.8 1597.9,473.9C1598.4,471.9 1598.9,469.9 1599.4,467.9C1599.9,466.0 1600.3,464.0 1600.8,462.0C1601.3,460.0 1601.8,458.1 1602.3,456.1C1602.7,454.1 1603.2,452.1 1603.7,450.1C1604.2,448.2 1604.7,446.2 1605.1,444.2C1605.6,442.2 1606.1,440.2 1606.6,438.3C1607.1,436.3 1607.6,434.3 1608.1,432.3C1608.5,430.3 1609.0,428.4 1609.5,426.4C1610.0,424.4 1610.5,422.4 1611.0,420.4C1611.5,418.5 1612.0,416.5 1612.5,414.5C1613.0,412.5 1613.5,410.5 1614.0,408.6C1614.5,406.6 1614.9,404.6 1615.5,402.6C1616.0,400.6 1616.5,398.7 1617.0,396.7C1617.5,394.7 1618.0,392.7 1618.5,390.8C1619.0,388.8 1619.5,386.8 1620.0,384.8C1620.5,382.9 1621.0,380.9 1621.5,378.9C1622.1,377.0 1622.6,375.0 1623.1,373.0C1623.6,371.1 1624.1,369.1 1624.7,367.1C1625.2,365.2 1625.7,363.2 1626.2,361.2C1626.8,359.3 1627.3,357.3 1627.8,355.4C1628.4,353.4 1628.9,351.5 1629.4,349.5C1630.0,347.6 1630.5,345.6 1631.1,343.7C1631.6,341.7 1632.2,339.8 1632.7,337.8C1633.3,335.9 1633.8,333.9 1634.4,332.0C1634.9,330.1 1635.5,328.1 1636.1,326.2C1636.6,324.3 1637.2,322.3 1637.8,320.4C1638.3,318.5 1638.9,316.5 1639.5,314.6C1640.1,312.7 1640.6,310.8 1641.2,308.9C1641.8,306.9 1642.4,305.0 1643.0,303.1C1643.6,301.2 1644.2,299.3 1644.8,297.4C1645.4,295.5 1646.0,293.6 1646.6,291.7C1647.2,289.8 1647.8,287.9 1648.4,286.0C1649.0,284.1 1649.6,282.2 1650.3,280.4C1650.9,278.5 1651.5,276.6 1652.1,274.7C1652.8,272.8 1653.4,271.0 1654.0,269.1C1654.7,267.2 1655.3,265.4 1656.0,263.5C1656.6,261.7 1657.3,259.8 1657.9,258.0C1658.6,256.1 1659.3,254.3 1659.9,252.4C1660.6,250.6 1661.3,248.7 1662.0,246.9C1662.7,245.1 1663.3,243.3 1664.0,241.4C1664.7,239.6 1665.5,237.8 1666.2,236.0C1666.9,234.2 1667.6,232.4 1668.3,230.6C1669.1,228.8 1669.8,227.0 1670.6,225.2C1671.3,223.4 1672.1,221.6 1672.8,219.8C1673.6,218.0 1674.4,216.3 1675.2,214.5C1676.0,212.7 1676.8,211.0 1677.6,209.2C1678.4,207.4 1679.2,205.7 1680.0,203.9C1680.9,202.2 1681.7,200.5 1682.6,198.7C1683.4,197.0 1684.3,195.3 1685.2,193.5C1686.1,191.8 1687.0,190.1 1687.9,188.4C1688.8,186.7 1689.7,185.0 1690.7,183.3C1691.6,181.6 1692.6,179.9 1693.6,178.2C1694.5,176.5 1695.5,174.9 1696.5,173.2C1697.5,171.5 1698.5,169.9 1699.6,168.2C1700.6,166.5 1701.7,164.9 1702.7,163.2C1703.8,161.6 1704.9,160.0 1706.0,158.3C1707.1,156.7 1708.2,155.1 1709.3,153.5C1710.5,151.9 1711.6,150.3 1712.8,148.7C1714.0,147.1 1715.2,145.5 1716.4,143.9C1717.6,142.3 1718.8,140.7 1720.1,139.2C1721.4,137.6 1722.6,136.0 1723.9,134.5C1725.2,132.9 1726.5,131.4 1727.9,129.9C1729.2,128.4 1730.6,126.9 1731.9,125.4C1733.3,123.9 1734.7,122.5 1736.1,121.0C1737.5,119.6 1738.9,118.2 1740.4,116.8C1741.9,115.4 1743.3,114.0 1744.8,112.7C1746.3,111.3 1747.8,110.0 1749.3,108.8C1750.9,107.5 1752.4,106.2 1754.0,105.0C1755.6,103.8 1757.1,102.6 1758.8,101.5C1760.4,100.4 1762.0,99.3 1763.6,98.2C1765.3,97.2 1766.9,96.1 1768.6,95.2C1770.3,94.2 1772.0,93.3 1773.7,92.4C1775.4,91.5 1777.2,90.7 1779.0,89.9C1780.7,89.1 1782.5,88.4 1784.3,87.7C1786.1,87.0 1787.9,86.4 1789.7,85.9C1791.6,85.3 1793.4,84.7 1795.3,84.3C1797.2,84.0 1799.1,83.9 1801.0,83.8C1802.9,83.7 1804.8,83.8 1806.7,83.8C1808.7,83.8 1810.7,83.8 1812.6,83.8C1814.6,83.8 1816.6,83.8 1818.6,83.8C1820.6,83.8 1822.7,83.8 1824.7,83.8C1826.8,83.8 1828.8,83.8 1830.9,83.8C1833.0,83.8 1835.1,83.8 1837.2,83.8C1839.3,83.8 1841.4,83.8 1843.6,83.8C1845.7,83.8 1847.9,83.8 1850.0,83.8C1852.2,83.8 1854.4,83.8 1856.6,83.8C1858.8,83.8 1861.0,83.8 1863.3,83.8C1865.5,83.8 1867.8,83.8 1870.0,83.8C1918.7,83.8 1967.3,83.8 2016.0,83.8"/>
</g>
<g stroke="#231f20" stroke-width="8" fill="none">
<line x1="329" y1="82" x2="329" y2="1869"/>
<line x1="295" y1="1835.0" x2="2058" y2="1835.0"/>
<line x1="295" y1="1660.93" x2="329" y2="1660.93"/>
<line x1="295" y1="1486.86" x2="329" y2="1486.86"/>
<line x1="295" y1="1312.79" x2="329" y2="1312.79"/>
<line x1="295" y1="1138.72" x2="329" y2="1138.72"/>
<line x1="295" y1="964.65" x2="329" y2="964.65"/>
<line x1="295" y1="790.58" x2="329" y2="790.58"/>
<line x1="295" y1="616.51" x2="329" y2="616.51"/>
<line x1="295" y1="442.44" x2="329" y2="442.44"/>
<line x1="295" y1="268.37" x2="329" y2="268.37"/>
<line x1="295" y1="94.30" x2="329" y2="94.30"/>
<line x1="760.25" y1="1835.0" x2="760.25" y2="1869"/>
<line x1="1191.50" y1="1835.0" x2="1191.50" y2="1869"/>
<line x1="1622.75" y1="1835.0" x2="1622.75" y2="1869"/>
<line x1="2054.00" y1="1835.0" x2="2054.00" y2="1869"/>
</g>
<g fill="none" stroke-width="16.5" stroke-linecap="round">
<line stroke="#f8b616" x1="439.5" y1="142" x2="602.5" y2="142"/>
<line stroke="#33b74f" x1="439.5" y1="246.5" x2="602.5" y2="246.5"/>
<line stroke="#d42620" x1="439.5" y1="351.8" x2="602.5" y2="351.8"/>
<line stroke="#050509" x1="439.5" y1="455.9" x2="602.5" y2="455.9"/>
</g>
<g font-family="'Liberation Sans', Arial, Helvetica, sans-serif" fill="#231f20" font-size="86">
<text x="273.5" y="1862.50" text-anchor="end">0</text>
<text x="273.5" y="1688.43" text-anchor="end">10</text>
<text x="273.5" y="1514.36" text-anchor="end">20</text>
<text x="273.5" y="1340.29" text-anchor="end">30</text>
<text x="273.5" y="1166.22" text-anchor="end">40</text>
<text x="273.5" y="992.15" text-anchor="end">50</text>
<text x="273.5" y="818.08" text-anchor="end">60</text>
<text x="273.5" y="644.01" text-anchor="end">70</text>
<text x="273.5" y="469.94" text-anchor="end">80</text>
<text x="273.5" y="295.87" text-anchor="end">90</text>
<text x="273.5" y="121.80" text-anchor="end">100</text>
<text x="297.2" y="1960">0.1</text>
<text x="748.1" y="1960">1</text>
<text x="1143.1" y="1960">10</text>
<text x="1538.6" y="1960">100</text>
<text x="1934.1" y="1960">1000</text>
<text x="636" y="174.6">8 min</text>
<text x="636" y="278.2">4 min</text>
<text x="636" y="382.4">2 min</text>
<text x="636" y="486.9">raw ash</text>
</g>
<text font-family="'Liberation Sans', Arial, Helvetica, sans-serif" fill="#231f20" font-size="103" x="886.4" y="2065">grain size, µm</text>
<text font-family="'Liberation Sans', Arial, Helvetica, sans-serif" fill="#231f20" font-size="103" transform="translate(134,1367) rotate(-90)">cumulative volume, %</text>
</svg>
</body></html>
